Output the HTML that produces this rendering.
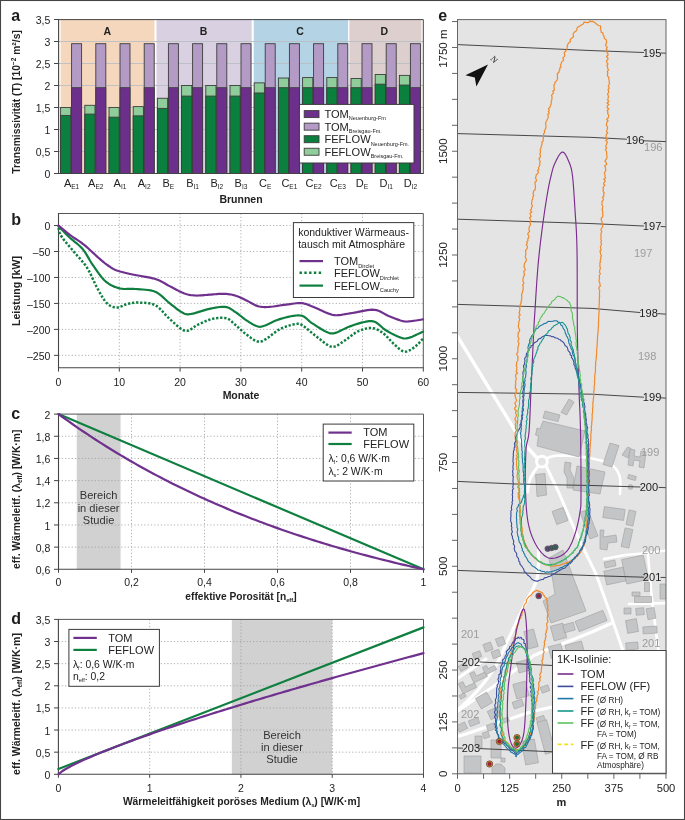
<!DOCTYPE html><html><head><meta charset="utf-8"><style>html,body{margin:0;padding:0;background:#fff;overflow:hidden;}svg{display:block;will-change:transform;}</style></head><body><svg width="685" height="820" viewBox="0 0 685 820" font-family="Liberation Sans">
<rect x="0.00" y="0.00" width="685.00" height="820.00" fill="#fff" stroke="none" stroke-width="1" />
<rect x="60.60" y="19.60" width="93.90" height="153.90" fill="#f4d7bc" stroke="none" stroke-width="1" />
<rect x="156.50" y="19.60" width="95.20" height="153.90" fill="#d9d0e1" stroke="none" stroke-width="1" />
<rect x="253.70" y="19.60" width="94.40" height="153.90" fill="#b4d3e5" stroke="none" stroke-width="1" />
<rect x="349.40" y="19.60" width="72.00" height="153.90" fill="#dccfcd" stroke="none" stroke-width="1" />
<text x="107.3" y="35.2" font-size="10.5" font-weight="bold" text-anchor="middle" fill="#222" >A</text>
<text x="203.5" y="35.2" font-size="10.5" font-weight="bold" text-anchor="middle" fill="#222" >B</text>
<text x="300.0" y="35.2" font-size="10.5" font-weight="bold" text-anchor="middle" fill="#222" >C</text>
<text x="384.4" y="35.2" font-size="10.5" font-weight="bold" text-anchor="middle" fill="#222" >D</text>
<line x1="59.00" y1="151.50" x2="423.00" y2="151.50" stroke="#b9bec4" stroke-width="0.9" />
<line x1="59.00" y1="129.50" x2="423.00" y2="129.50" stroke="#b9bec4" stroke-width="0.9" />
<line x1="59.00" y1="107.50" x2="423.00" y2="107.50" stroke="#b9bec4" stroke-width="0.9" />
<line x1="59.00" y1="85.50" x2="423.00" y2="85.50" stroke="#b9bec4" stroke-width="0.9" />
<line x1="59.00" y1="63.50" x2="423.00" y2="63.50" stroke="#b9bec4" stroke-width="0.9" />
<line x1="59.00" y1="41.50" x2="423.00" y2="41.50" stroke="#b9bec4" stroke-width="0.9" />
<rect x="60.60" y="107.50" width="10.20" height="66.00" fill="#8fcd9b" stroke="#3d3d3d" stroke-width="0.9" />
<rect x="60.60" y="115.42" width="10.20" height="58.08" fill="#0b7f3e" stroke="#3d3d3d" stroke-width="0.9" />
<rect x="71.60" y="43.70" width="10.00" height="129.80" fill="#b39bc6" stroke="#3d3d3d" stroke-width="0.9" />
<rect x="71.60" y="87.70" width="10.00" height="85.80" fill="#6d2f8c" stroke="#3d3d3d" stroke-width="0.9" />
<rect x="84.80" y="105.30" width="10.20" height="68.20" fill="#8fcd9b" stroke="#3d3d3d" stroke-width="0.9" />
<rect x="84.80" y="114.10" width="10.20" height="59.40" fill="#0b7f3e" stroke="#3d3d3d" stroke-width="0.9" />
<rect x="95.80" y="43.70" width="10.00" height="129.80" fill="#b39bc6" stroke="#3d3d3d" stroke-width="0.9" />
<rect x="95.80" y="87.70" width="10.00" height="85.80" fill="#6d2f8c" stroke="#3d3d3d" stroke-width="0.9" />
<rect x="109.00" y="107.50" width="10.20" height="66.00" fill="#8fcd9b" stroke="#3d3d3d" stroke-width="0.9" />
<rect x="109.00" y="117.18" width="10.20" height="56.32" fill="#0b7f3e" stroke="#3d3d3d" stroke-width="0.9" />
<rect x="120.00" y="43.70" width="10.00" height="129.80" fill="#b39bc6" stroke="#3d3d3d" stroke-width="0.9" />
<rect x="120.00" y="87.70" width="10.00" height="85.80" fill="#6d2f8c" stroke="#3d3d3d" stroke-width="0.9" />
<rect x="133.20" y="106.62" width="10.20" height="66.88" fill="#8fcd9b" stroke="#3d3d3d" stroke-width="0.9" />
<rect x="133.20" y="115.86" width="10.20" height="57.64" fill="#0b7f3e" stroke="#3d3d3d" stroke-width="0.9" />
<rect x="144.20" y="43.70" width="10.00" height="129.80" fill="#b39bc6" stroke="#3d3d3d" stroke-width="0.9" />
<rect x="144.20" y="87.70" width="10.00" height="85.80" fill="#6d2f8c" stroke="#3d3d3d" stroke-width="0.9" />
<rect x="157.40" y="98.26" width="10.20" height="75.24" fill="#8fcd9b" stroke="#3d3d3d" stroke-width="0.9" />
<rect x="157.40" y="108.38" width="10.20" height="65.12" fill="#0b7f3e" stroke="#3d3d3d" stroke-width="0.9" />
<rect x="168.40" y="43.70" width="10.00" height="129.80" fill="#b39bc6" stroke="#3d3d3d" stroke-width="0.9" />
<rect x="168.40" y="87.70" width="10.00" height="85.80" fill="#6d2f8c" stroke="#3d3d3d" stroke-width="0.9" />
<rect x="181.60" y="85.50" width="10.20" height="88.00" fill="#8fcd9b" stroke="#3d3d3d" stroke-width="0.9" />
<rect x="181.60" y="96.06" width="10.20" height="77.44" fill="#0b7f3e" stroke="#3d3d3d" stroke-width="0.9" />
<rect x="192.60" y="43.70" width="10.00" height="129.80" fill="#b39bc6" stroke="#3d3d3d" stroke-width="0.9" />
<rect x="192.60" y="87.70" width="10.00" height="85.80" fill="#6d2f8c" stroke="#3d3d3d" stroke-width="0.9" />
<rect x="205.80" y="85.50" width="10.20" height="88.00" fill="#8fcd9b" stroke="#3d3d3d" stroke-width="0.9" />
<rect x="205.80" y="96.06" width="10.20" height="77.44" fill="#0b7f3e" stroke="#3d3d3d" stroke-width="0.9" />
<rect x="216.80" y="43.70" width="10.00" height="129.80" fill="#b39bc6" stroke="#3d3d3d" stroke-width="0.9" />
<rect x="216.80" y="87.70" width="10.00" height="85.80" fill="#6d2f8c" stroke="#3d3d3d" stroke-width="0.9" />
<rect x="230.00" y="85.50" width="10.20" height="88.00" fill="#8fcd9b" stroke="#3d3d3d" stroke-width="0.9" />
<rect x="230.00" y="96.06" width="10.20" height="77.44" fill="#0b7f3e" stroke="#3d3d3d" stroke-width="0.9" />
<rect x="241.00" y="43.70" width="10.00" height="129.80" fill="#b39bc6" stroke="#3d3d3d" stroke-width="0.9" />
<rect x="241.00" y="87.70" width="10.00" height="85.80" fill="#6d2f8c" stroke="#3d3d3d" stroke-width="0.9" />
<rect x="254.20" y="82.86" width="10.20" height="90.64" fill="#8fcd9b" stroke="#3d3d3d" stroke-width="0.9" />
<rect x="254.20" y="92.98" width="10.20" height="80.52" fill="#0b7f3e" stroke="#3d3d3d" stroke-width="0.9" />
<rect x="265.20" y="43.70" width="10.00" height="129.80" fill="#b39bc6" stroke="#3d3d3d" stroke-width="0.9" />
<rect x="265.20" y="87.70" width="10.00" height="85.80" fill="#6d2f8c" stroke="#3d3d3d" stroke-width="0.9" />
<rect x="278.40" y="78.02" width="10.20" height="95.48" fill="#8fcd9b" stroke="#3d3d3d" stroke-width="0.9" />
<rect x="278.40" y="87.70" width="10.20" height="85.80" fill="#0b7f3e" stroke="#3d3d3d" stroke-width="0.9" />
<rect x="289.40" y="43.70" width="10.00" height="129.80" fill="#b39bc6" stroke="#3d3d3d" stroke-width="0.9" />
<rect x="289.40" y="87.70" width="10.00" height="85.80" fill="#6d2f8c" stroke="#3d3d3d" stroke-width="0.9" />
<rect x="302.60" y="77.58" width="10.20" height="95.92" fill="#8fcd9b" stroke="#3d3d3d" stroke-width="0.9" />
<rect x="302.60" y="87.70" width="10.20" height="85.80" fill="#0b7f3e" stroke="#3d3d3d" stroke-width="0.9" />
<rect x="313.60" y="43.70" width="10.00" height="129.80" fill="#b39bc6" stroke="#3d3d3d" stroke-width="0.9" />
<rect x="313.60" y="87.70" width="10.00" height="85.80" fill="#6d2f8c" stroke="#3d3d3d" stroke-width="0.9" />
<rect x="326.80" y="77.58" width="10.20" height="95.92" fill="#8fcd9b" stroke="#3d3d3d" stroke-width="0.9" />
<rect x="326.80" y="87.70" width="10.20" height="85.80" fill="#0b7f3e" stroke="#3d3d3d" stroke-width="0.9" />
<rect x="337.80" y="43.70" width="10.00" height="129.80" fill="#b39bc6" stroke="#3d3d3d" stroke-width="0.9" />
<rect x="337.80" y="87.70" width="10.00" height="85.80" fill="#6d2f8c" stroke="#3d3d3d" stroke-width="0.9" />
<rect x="351.00" y="78.46" width="10.20" height="95.04" fill="#8fcd9b" stroke="#3d3d3d" stroke-width="0.9" />
<rect x="351.00" y="87.70" width="10.20" height="85.80" fill="#0b7f3e" stroke="#3d3d3d" stroke-width="0.9" />
<rect x="362.00" y="43.70" width="10.00" height="129.80" fill="#b39bc6" stroke="#3d3d3d" stroke-width="0.9" />
<rect x="362.00" y="87.70" width="10.00" height="85.80" fill="#6d2f8c" stroke="#3d3d3d" stroke-width="0.9" />
<rect x="375.20" y="74.50" width="10.20" height="99.00" fill="#8fcd9b" stroke="#3d3d3d" stroke-width="0.9" />
<rect x="375.20" y="84.18" width="10.20" height="89.32" fill="#0b7f3e" stroke="#3d3d3d" stroke-width="0.9" />
<rect x="386.20" y="43.70" width="10.00" height="129.80" fill="#b39bc6" stroke="#3d3d3d" stroke-width="0.9" />
<rect x="386.20" y="87.70" width="10.00" height="85.80" fill="#6d2f8c" stroke="#3d3d3d" stroke-width="0.9" />
<rect x="399.40" y="75.38" width="10.20" height="98.12" fill="#8fcd9b" stroke="#3d3d3d" stroke-width="0.9" />
<rect x="399.40" y="85.06" width="10.20" height="88.44" fill="#0b7f3e" stroke="#3d3d3d" stroke-width="0.9" />
<rect x="410.40" y="43.70" width="10.00" height="129.80" fill="#b39bc6" stroke="#3d3d3d" stroke-width="0.9" />
<rect x="410.40" y="87.70" width="10.00" height="85.80" fill="#6d2f8c" stroke="#3d3d3d" stroke-width="0.9" />
<path d="M58.6,19.6 L423.3,19.6 L423.3,173.5" fill="none" stroke="#444" stroke-width="1"/>
<line x1="58.60" y1="19.10" x2="58.60" y2="174.00" stroke="#444" stroke-width="1.1" />
<line x1="58.10" y1="173.50" x2="423.80" y2="173.50" stroke="#444" stroke-width="1.1" />
<line x1="54.00" y1="173.50" x2="58.60" y2="173.50" stroke="#444" stroke-width="1" />
<text x="50.4" y="178.0" font-size="10.5" text-anchor="end" fill="#222" >0</text>
<line x1="54.00" y1="151.50" x2="58.60" y2="151.50" stroke="#444" stroke-width="1" />
<text x="50.4" y="156.0" font-size="10.5" text-anchor="end" fill="#222" >0,5</text>
<line x1="54.00" y1="129.50" x2="58.60" y2="129.50" stroke="#444" stroke-width="1" />
<text x="50.4" y="134.0" font-size="10.5" text-anchor="end" fill="#222" >1</text>
<line x1="54.00" y1="107.50" x2="58.60" y2="107.50" stroke="#444" stroke-width="1" />
<text x="50.4" y="112.0" font-size="10.5" text-anchor="end" fill="#222" >1,5</text>
<line x1="54.00" y1="85.50" x2="58.60" y2="85.50" stroke="#444" stroke-width="1" />
<text x="50.4" y="90.0" font-size="10.5" text-anchor="end" fill="#222" >2</text>
<line x1="54.00" y1="63.50" x2="58.60" y2="63.50" stroke="#444" stroke-width="1" />
<text x="50.4" y="68.0" font-size="10.5" text-anchor="end" fill="#222" >2,5</text>
<line x1="54.00" y1="41.50" x2="58.60" y2="41.50" stroke="#444" stroke-width="1" />
<text x="50.4" y="46.0" font-size="10.5" text-anchor="end" fill="#222" >3</text>
<line x1="54.00" y1="19.50" x2="58.60" y2="19.50" stroke="#444" stroke-width="1" />
<text x="50.4" y="24.0" font-size="10.5" text-anchor="end" fill="#222" >3,5</text>
<text x="71.6" y="186.6" font-size="11" text-anchor="middle" fill="#222">A<tspan font-size="6.6" dy="2.3">E1</tspan></text>
<text x="95.8" y="186.6" font-size="11" text-anchor="middle" fill="#222">A<tspan font-size="6.6" dy="2.3">E2</tspan></text>
<text x="120.0" y="186.6" font-size="11" text-anchor="middle" fill="#222">A<tspan font-size="6.6" dy="2.3">I1</tspan></text>
<text x="144.2" y="186.6" font-size="11" text-anchor="middle" fill="#222">A<tspan font-size="6.6" dy="2.3">I2</tspan></text>
<text x="168.4" y="186.6" font-size="11" text-anchor="middle" fill="#222">B<tspan font-size="6.6" dy="2.3">E</tspan></text>
<text x="192.6" y="186.6" font-size="11" text-anchor="middle" fill="#222">B<tspan font-size="6.6" dy="2.3">I1</tspan></text>
<text x="216.8" y="186.6" font-size="11" text-anchor="middle" fill="#222">B<tspan font-size="6.6" dy="2.3">I2</tspan></text>
<text x="241.0" y="186.6" font-size="11" text-anchor="middle" fill="#222">B<tspan font-size="6.6" dy="2.3">I3</tspan></text>
<text x="265.2" y="186.6" font-size="11" text-anchor="middle" fill="#222">C<tspan font-size="6.6" dy="2.3">E</tspan></text>
<text x="289.4" y="186.6" font-size="11" text-anchor="middle" fill="#222">C<tspan font-size="6.6" dy="2.3">E1</tspan></text>
<text x="313.6" y="186.6" font-size="11" text-anchor="middle" fill="#222">C<tspan font-size="6.6" dy="2.3">E2</tspan></text>
<text x="337.8" y="186.6" font-size="11" text-anchor="middle" fill="#222">C<tspan font-size="6.6" dy="2.3">E3</tspan></text>
<text x="362.0" y="186.6" font-size="11" text-anchor="middle" fill="#222">D<tspan font-size="6.6" dy="2.3">E</tspan></text>
<text x="386.2" y="186.6" font-size="11" text-anchor="middle" fill="#222">D<tspan font-size="6.6" dy="2.3">I1</tspan></text>
<text x="410.4" y="186.6" font-size="11" text-anchor="middle" fill="#222">D<tspan font-size="6.6" dy="2.3">I2</tspan></text>
<text x="241.0" y="203.0" font-size="10.5" font-weight="bold" text-anchor="middle" fill="#222" >Brunnen</text>
<text transform="translate(19.7,102.0) rotate(-90)" font-size="10.3" font-weight="bold" text-anchor="middle" fill="#222">Transmissivität (T) [10<tspan font-size="6.5" dy="-3.5">−2</tspan><tspan dy="3.5"> m²/s]</tspan></text>
<text x="11.3" y="21.2" font-size="16" font-weight="bold" text-anchor="start" fill="#1c1c1c" >a</text>
<rect x="299.40" y="104.40" width="114.60" height="58.60" fill="#fff" stroke="#3a3a3a" stroke-width="1" />
<rect x="304.20" y="110.60" width="14.80" height="7.00" fill="#6d2f8c" stroke="#3d3d3d" stroke-width="0.9" />
<text x="324.4" y="118.2" font-size="11.1" fill="#222">TOM<tspan font-size="5.5" dy="2.2">Neuenburg-Fm</tspan></text>
<rect x="304.20" y="123.15" width="14.80" height="7.00" fill="#b39bc6" stroke="#3d3d3d" stroke-width="0.9" />
<text x="324.4" y="130.8" font-size="11.1" fill="#222">TOM<tspan font-size="5.5" dy="2.2">Breisgau-Fm.</tspan></text>
<rect x="304.20" y="135.70" width="14.80" height="7.00" fill="#0b7f3e" stroke="#3d3d3d" stroke-width="0.9" />
<text x="324.4" y="143.3" font-size="11.1" fill="#222">FEFLOW<tspan font-size="5.5" dy="2.2">Neuenburg-Fm.</tspan></text>
<rect x="304.20" y="148.25" width="14.80" height="7.00" fill="#8fcd9b" stroke="#3d3d3d" stroke-width="0.9" />
<text x="324.4" y="155.8" font-size="11.1" fill="#222">FEFLOW<tspan font-size="5.5" dy="2.2">Breisgau-Fm.</tspan></text>
<line x1="58.50" y1="225.50" x2="423.30" y2="225.50" stroke="#9c9c9c" stroke-width="0.8" stroke-dasharray="1.2 2.1"/>
<line x1="58.50" y1="251.47" x2="423.30" y2="251.47" stroke="#9c9c9c" stroke-width="0.8" stroke-dasharray="1.2 2.1"/>
<line x1="58.50" y1="277.44" x2="423.30" y2="277.44" stroke="#9c9c9c" stroke-width="0.8" stroke-dasharray="1.2 2.1"/>
<line x1="58.50" y1="303.41" x2="423.30" y2="303.41" stroke="#9c9c9c" stroke-width="0.8" stroke-dasharray="1.2 2.1"/>
<line x1="58.50" y1="329.38" x2="423.30" y2="329.38" stroke="#9c9c9c" stroke-width="0.8" stroke-dasharray="1.2 2.1"/>
<line x1="58.50" y1="355.35" x2="423.30" y2="355.35" stroke="#9c9c9c" stroke-width="0.8" stroke-dasharray="1.2 2.1"/>
<line x1="119.30" y1="213.50" x2="119.30" y2="367.80" stroke="#9c9c9c" stroke-width="0.8" stroke-dasharray="1.2 2.1"/>
<line x1="180.10" y1="213.50" x2="180.10" y2="367.80" stroke="#9c9c9c" stroke-width="0.8" stroke-dasharray="1.2 2.1"/>
<line x1="240.90" y1="213.50" x2="240.90" y2="367.80" stroke="#9c9c9c" stroke-width="0.8" stroke-dasharray="1.2 2.1"/>
<line x1="301.70" y1="213.50" x2="301.70" y2="367.80" stroke="#9c9c9c" stroke-width="0.8" stroke-dasharray="1.2 2.1"/>
<line x1="362.50" y1="213.50" x2="362.50" y2="367.80" stroke="#9c9c9c" stroke-width="0.8" stroke-dasharray="1.2 2.1"/>
<path d="M58.5,213.5 L423.3,213.5 L423.3,367.8" fill="none" stroke="#555" stroke-width="1"/>
<line x1="58.50" y1="213.00" x2="58.50" y2="368.30" stroke="#444" stroke-width="1.1" />
<line x1="58.00" y1="367.80" x2="423.80" y2="367.80" stroke="#444" stroke-width="1.1" />
<line x1="54.00" y1="225.50" x2="58.50" y2="225.50" stroke="#444" stroke-width="1" />
<text x="50.4" y="230.0" font-size="10.5" text-anchor="end" fill="#222" >0</text>
<line x1="54.00" y1="251.47" x2="58.50" y2="251.47" stroke="#444" stroke-width="1" />
<text x="50.4" y="256.0" font-size="10.5" text-anchor="end" fill="#222" >–50</text>
<line x1="54.00" y1="277.44" x2="58.50" y2="277.44" stroke="#444" stroke-width="1" />
<text x="50.4" y="281.9" font-size="10.5" text-anchor="end" fill="#222" >–100</text>
<line x1="54.00" y1="303.41" x2="58.50" y2="303.41" stroke="#444" stroke-width="1" />
<text x="50.4" y="307.9" font-size="10.5" text-anchor="end" fill="#222" >–150</text>
<line x1="54.00" y1="329.38" x2="58.50" y2="329.38" stroke="#444" stroke-width="1" />
<text x="50.4" y="333.9" font-size="10.5" text-anchor="end" fill="#222" >–200</text>
<line x1="54.00" y1="355.35" x2="58.50" y2="355.35" stroke="#444" stroke-width="1" />
<text x="50.4" y="359.9" font-size="10.5" text-anchor="end" fill="#222" >–250</text>
<line x1="58.50" y1="367.80" x2="58.50" y2="371.60" stroke="#444" stroke-width="1" />
<text x="58.5" y="385.6" font-size="10.5" text-anchor="middle" fill="#222" >0</text>
<line x1="119.30" y1="367.80" x2="119.30" y2="371.60" stroke="#444" stroke-width="1" />
<text x="119.3" y="385.6" font-size="10.5" text-anchor="middle" fill="#222" >10</text>
<line x1="180.10" y1="367.80" x2="180.10" y2="371.60" stroke="#444" stroke-width="1" />
<text x="180.1" y="385.6" font-size="10.5" text-anchor="middle" fill="#222" >20</text>
<line x1="240.90" y1="367.80" x2="240.90" y2="371.60" stroke="#444" stroke-width="1" />
<text x="240.9" y="385.6" font-size="10.5" text-anchor="middle" fill="#222" >30</text>
<line x1="301.70" y1="367.80" x2="301.70" y2="371.60" stroke="#444" stroke-width="1" />
<text x="301.7" y="385.6" font-size="10.5" text-anchor="middle" fill="#222" >40</text>
<line x1="362.50" y1="367.80" x2="362.50" y2="371.60" stroke="#444" stroke-width="1" />
<text x="362.5" y="385.6" font-size="10.5" text-anchor="middle" fill="#222" >50</text>
<line x1="423.30" y1="367.80" x2="423.30" y2="371.60" stroke="#444" stroke-width="1" />
<text x="423.3" y="385.6" font-size="10.5" text-anchor="middle" fill="#222" >60</text>
<text x="241.0" y="398.6" font-size="10.5" font-weight="bold" text-anchor="middle" fill="#222" >Monate</text>
<text transform="translate(19.7,291.0) rotate(-90)" font-size="10.6" font-weight="bold" text-anchor="middle" fill="#222">Leistung [kW]</text>
<text x="11.3" y="224.8" font-size="16" font-weight="bold" text-anchor="start" fill="#1c1c1c" >b</text>
<path d="M58.50,227.80 L58.67,228.42 L58.82,229.19 L59.00,230.11 L59.24,231.16 L59.56,232.32 L60.01,233.58 L60.61,234.91 L61.40,236.30 L62.40,237.78 L63.59,239.38 L64.93,241.08 L66.39,242.86 L67.95,244.71 L69.55,246.61 L71.18,248.55 L72.80,250.50 L74.47,252.48 L76.25,254.50 L78.10,256.57 L79.99,258.69 L81.86,260.85 L83.68,263.05 L85.41,265.30 L87.00,267.60 L88.45,269.99 L89.80,272.50 L91.06,275.08 L92.27,277.69 L93.44,280.29 L94.61,282.84 L95.78,285.29 L97.00,287.60 L98.24,289.84 L99.48,292.07 L100.72,294.27 L101.95,296.38 L103.18,298.37 L104.42,300.20 L105.66,301.82 L106.90,303.20 L108.15,304.33 L109.39,305.25 L110.64,305.98 L111.89,306.54 L113.15,306.95 L114.40,307.23 L115.65,307.41 L116.90,307.50 L118.14,307.43 L119.37,307.15 L120.59,306.71 L121.82,306.16 L123.05,305.57 L124.31,305.00 L125.59,304.49 L126.90,304.10 L128.21,303.79 L129.50,303.50 L130.79,303.22 L132.11,302.98 L133.48,302.78 L134.94,302.64 L136.50,302.58 L138.20,302.60 L140.08,302.65 L142.13,302.70 L144.31,302.79 L146.56,302.95 L148.84,303.23 L151.09,303.67 L153.26,304.32 L155.30,305.20 L157.21,306.39 L159.04,307.89 L160.81,309.60 L162.54,311.47 L164.27,313.41 L166.00,315.34 L167.77,317.20 L169.60,318.90 L171.51,320.60 L173.47,322.43 L175.48,324.29 L177.49,326.09 L179.50,327.74 L181.47,329.14 L183.38,330.19 L185.20,330.80 L186.92,330.89 L188.56,330.51 L190.14,329.78 L191.68,328.80 L193.21,327.68 L194.76,326.54 L196.35,325.47 L198.00,324.60 L199.72,323.83 L201.47,323.02 L203.26,322.20 L205.06,321.40 L206.88,320.64 L208.70,319.95 L210.51,319.37 L212.30,318.90 L214.12,318.53 L215.99,318.23 L217.88,318.00 L219.76,317.85 L221.60,317.80 L223.35,317.85 L225.00,318.01 L226.50,318.30 L227.82,318.73 L228.96,319.31 L229.98,320.00 L230.93,320.79 L231.85,321.67 L232.80,322.61 L233.84,323.59 L235.00,324.60 L236.29,325.68 L237.65,326.89 L239.06,328.17 L240.52,329.50 L242.00,330.83 L243.48,332.14 L244.96,333.37 L246.40,334.50 L247.84,335.59 L249.32,336.70 L250.80,337.80 L252.28,338.84 L253.74,339.79 L255.15,340.59 L256.51,341.21 L257.80,341.60 L258.96,341.77 L260.00,341.76 L260.95,341.59 L261.88,341.27 L262.82,340.81 L263.84,340.24 L264.98,339.56 L266.30,338.80 L267.79,337.86 L269.41,336.68 L271.14,335.35 L272.95,333.93 L274.81,332.49 L276.71,331.10 L278.61,329.85 L280.50,328.80 L282.45,327.90 L284.52,327.07 L286.66,326.32 L288.79,325.65 L290.88,325.07 L292.84,324.60 L294.64,324.24 L296.20,324.00 L297.45,323.86 L298.41,323.80 L299.18,323.84 L299.84,323.99 L300.49,324.26 L301.22,324.68 L302.13,325.25 L303.30,326.00 L304.74,326.99 L306.37,328.24 L308.14,329.67 L310.01,331.24 L311.93,332.86 L313.86,334.47 L315.77,336.01 L317.60,337.40 L319.40,338.77 L321.22,340.23 L323.06,341.71 L324.88,343.14 L326.68,344.43 L328.45,345.52 L330.16,346.34 L331.80,346.80 L333.34,346.88 L334.78,346.64 L336.16,346.13 L337.50,345.41 L338.84,344.54 L340.22,343.57 L341.66,342.57 L343.20,341.60 L344.84,340.55 L346.55,339.31 L348.32,337.96 L350.12,336.56 L351.95,335.16 L353.78,333.85 L355.61,332.67 L357.40,331.70 L359.19,330.88 L361.02,330.13 L362.85,329.47 L364.68,328.91 L366.48,328.47 L368.25,328.16 L369.96,328.00 L371.60,328.00 L373.16,328.17 L374.65,328.51 L376.08,328.99 L377.48,329.61 L378.85,330.34 L380.22,331.18 L381.59,332.10 L383.00,333.10 L384.43,334.25 L385.88,335.61 L387.34,337.10 L388.79,338.68 L390.23,340.26 L391.65,341.80 L393.04,343.24 L394.40,344.50 L395.72,345.67 L397.00,346.84 L398.26,347.98 L399.49,349.03 L400.72,349.96 L401.94,350.73 L403.16,351.29 L404.40,351.60 L405.65,351.64 L406.91,351.43 L408.18,351.01 L409.44,350.43 L410.69,349.72 L411.92,348.94 L413.13,348.12 L414.30,347.30 L415.50,346.38 L416.74,345.27 L418.00,344.05 L419.22,342.78 L420.36,341.55 L421.39,340.43 L422.25,339.48 L422.90,338.80" fill="none" stroke="#0f7f40" stroke-width="2.5" stroke-dasharray="2.3 1.75" stroke-linejoin="round"/>
<path d="M58.50,226.40 L59.37,227.27 L60.52,228.43 L61.88,229.81 L63.40,231.34 L65.02,232.96 L66.68,234.60 L68.33,236.21 L69.90,237.70 L71.45,239.09 L73.07,240.44 L74.72,241.78 L76.39,243.12 L78.04,244.51 L79.66,245.95 L81.22,247.47 L82.70,249.10 L84.06,250.85 L85.33,252.70 L86.53,254.64 L87.70,256.63 L88.87,258.66 L90.07,260.72 L91.34,262.77 L92.70,264.80 L94.16,266.89 L95.67,269.09 L97.23,271.34 L98.84,273.59 L100.47,275.77 L102.14,277.82 L103.81,279.68 L105.50,281.30 L107.20,282.68 L108.92,283.89 L110.66,284.94 L112.42,285.84 L114.20,286.63 L116.01,287.30 L117.84,287.89 L119.70,288.40 L121.56,288.77 L123.42,288.96 L125.29,289.00 L127.19,288.97 L129.14,288.90 L131.14,288.85 L133.23,288.86 L135.40,289.00 L137.72,289.19 L140.21,289.34 L142.80,289.51 L145.44,289.73 L148.06,290.02 L150.62,290.44 L153.05,291.02 L155.30,291.80 L157.37,292.83 L159.30,294.09 L161.14,295.53 L162.89,297.09 L164.59,298.69 L166.26,300.29 L167.92,301.81 L169.60,303.20 L171.30,304.53 L173.01,305.88 L174.70,307.22 L176.36,308.52 L177.98,309.75 L179.54,310.86 L181.02,311.82 L182.40,312.60 L183.60,313.20 L184.59,313.66 L185.46,314.00 L186.29,314.21 L187.17,314.30 L188.17,314.29 L189.39,314.19 L190.90,314.00 L192.75,313.65 L194.89,313.11 L197.23,312.43 L199.70,311.66 L202.23,310.87 L204.74,310.11 L207.15,309.43 L209.40,308.90 L211.54,308.45 L213.66,308.02 L215.75,307.62 L217.79,307.27 L219.76,307.01 L221.65,306.84 L223.43,306.80 L225.10,306.90 L226.60,307.16 L227.95,307.56 L229.17,308.07 L230.32,308.69 L231.43,309.40 L232.56,310.16 L233.73,310.97 L235.00,311.80 L236.36,312.71 L237.78,313.74 L239.23,314.85 L240.69,316.00 L242.16,317.16 L243.61,318.29 L245.03,319.35 L246.40,320.30 L247.74,321.19 L249.07,322.06 L250.38,322.89 L251.67,323.68 L252.92,324.40 L254.14,325.04 L255.30,325.58 L256.40,326.00 L257.36,326.32 L258.15,326.57 L258.84,326.73 L259.51,326.80 L260.24,326.77 L261.10,326.63 L262.16,326.38 L263.50,326.00 L265.13,325.43 L266.98,324.64 L269.02,323.69 L271.19,322.66 L273.47,321.60 L275.81,320.58 L278.16,319.66 L280.50,318.90 L282.92,318.22 L285.49,317.53 L288.16,316.87 L290.85,316.28 L293.50,315.81 L296.03,315.49 L298.39,315.37 L300.50,315.50 L302.32,315.92 L303.89,316.60 L305.28,317.50 L306.56,318.55 L307.80,319.69 L309.05,320.87 L310.40,322.03 L311.90,323.10 L313.58,324.18 L315.39,325.35 L317.27,326.57 L319.18,327.79 L321.07,328.96 L322.89,330.03 L324.58,330.96 L326.10,331.70 L327.40,332.27 L328.49,332.74 L329.45,333.09 L330.34,333.33 L331.24,333.46 L332.20,333.46 L333.30,333.34 L334.60,333.10 L336.11,332.67 L337.77,332.02 L339.54,331.22 L341.39,330.32 L343.29,329.37 L345.20,328.43 L347.08,327.55 L348.90,326.80 L350.70,326.12 L352.52,325.46 L354.36,324.81 L356.18,324.19 L357.98,323.62 L359.75,323.11 L361.46,322.66 L363.10,322.30 L364.66,321.98 L366.15,321.66 L367.58,321.39 L368.98,321.18 L370.35,321.08 L371.72,321.11 L373.09,321.31 L374.50,321.70 L375.91,322.35 L377.28,323.24 L378.65,324.32 L380.02,325.52 L381.42,326.78 L382.85,328.04 L384.34,329.23 L385.90,330.30 L387.58,331.30 L389.38,332.34 L391.27,333.36 L393.17,334.36 L395.06,335.29 L396.88,336.12 L398.57,336.84 L400.10,337.40 L401.40,337.82 L402.51,338.15 L403.49,338.37 L404.40,338.48 L405.31,338.49 L406.29,338.40 L407.40,338.20 L408.70,337.90 L410.30,337.40 L412.19,336.68 L414.24,335.79 L416.34,334.83 L418.37,333.87 L420.22,332.97 L421.77,332.22 L422.90,331.70" fill="none" stroke="#0f7f40" stroke-width="2.2" stroke-linejoin="round" stroke-linecap="round" />
<path d="M58.50,225.50 L59.36,226.22 L60.48,227.18 L61.81,228.31 L63.31,229.57 L64.91,230.92 L66.58,232.29 L68.26,233.63 L69.90,234.90 L71.55,236.10 L73.27,237.29 L75.05,238.48 L76.88,239.69 L78.72,240.92 L80.56,242.19 L82.40,243.51 L84.20,244.90 L86.01,246.40 L87.86,248.02 L89.73,249.71 L91.59,251.44 L93.42,253.14 L95.18,254.79 L96.85,256.32 L98.40,257.70 L99.82,258.93 L101.14,260.07 L102.37,261.11 L103.53,262.09 L104.65,263.00 L105.76,263.86 L106.86,264.69 L108.00,265.50 L109.10,266.27 L110.11,266.97 L111.09,267.62 L112.07,268.24 L113.10,268.82 L114.21,269.39 L115.47,269.94 L116.90,270.50 L118.49,271.04 L120.18,271.56 L121.98,272.05 L123.89,272.53 L125.90,273.01 L128.02,273.49 L130.26,273.98 L132.60,274.50 L135.16,275.02 L137.98,275.53 L140.97,276.04 L144.04,276.56 L147.10,277.10 L150.05,277.68 L152.82,278.31 L155.30,279.00 L157.49,279.76 L159.47,280.59 L161.28,281.47 L162.98,282.39 L164.61,283.32 L166.23,284.26 L167.87,285.19 L169.60,286.10 L171.40,287.02 L173.22,287.99 L175.06,288.97 L176.88,289.95 L178.68,290.89 L180.45,291.76 L182.16,292.54 L183.80,293.20 L185.34,293.74 L186.78,294.19 L188.16,294.55 L189.50,294.84 L190.84,295.08 L192.22,295.26 L193.66,295.39 L195.20,295.50 L196.84,295.55 L198.55,295.52 L200.32,295.43 L202.12,295.30 L203.94,295.14 L205.78,294.98 L207.60,294.83 L209.40,294.70 L211.20,294.57 L213.04,294.42 L214.89,294.26 L216.73,294.09 L218.55,293.95 L220.33,293.84 L222.06,293.79 L223.70,293.80 L225.26,293.87 L226.73,293.97 L228.15,294.11 L229.53,294.29 L230.89,294.51 L232.24,294.79 L233.60,295.12 L235.00,295.50 L236.42,295.95 L237.84,296.48 L239.27,297.07 L240.69,297.70 L242.12,298.36 L243.55,299.04 L244.97,299.73 L246.40,300.40 L247.83,301.11 L249.25,301.88 L250.68,302.69 L252.10,303.51 L253.53,304.29 L254.95,305.00 L256.38,305.62 L257.80,306.10 L259.19,306.46 L260.52,306.72 L261.83,306.90 L263.15,307.00 L264.51,307.04 L265.96,307.03 L267.51,306.98 L269.20,306.90 L271.07,306.75 L273.09,306.52 L275.22,306.22 L277.43,305.89 L279.67,305.53 L281.91,305.18 L284.10,304.87 L286.20,304.60 L288.24,304.34 L290.28,304.05 L292.31,303.76 L294.31,303.49 L296.28,303.27 L298.21,303.13 L300.09,303.10 L301.90,303.20 L303.63,303.45 L305.27,303.83 L306.85,304.31 L308.39,304.87 L309.92,305.50 L311.46,306.16 L313.05,306.83 L314.70,307.50 L316.46,308.22 L318.31,309.03 L320.21,309.89 L322.12,310.77 L324.00,311.64 L325.80,312.44 L327.48,313.14 L329.00,313.70 L330.28,314.14 L331.33,314.50 L332.23,314.79 L333.07,315.00 L333.94,315.14 L334.91,315.22 L336.07,315.24 L337.50,315.20 L339.21,315.07 L341.10,314.84 L343.16,314.53 L345.34,314.17 L347.60,313.77 L349.93,313.36 L352.27,312.96 L354.60,312.60 L356.99,312.20 L359.51,311.70 L362.11,311.17 L364.73,310.65 L367.33,310.20 L369.86,309.87 L372.27,309.72 L374.50,309.80 L376.55,310.15 L378.45,310.74 L380.24,311.51 L381.95,312.41 L383.62,313.36 L385.28,314.32 L386.96,315.22 L388.70,316.00 L390.52,316.73 L392.40,317.47 L394.31,318.22 L396.21,318.94 L398.06,319.61 L399.83,320.21 L401.49,320.71 L403.00,321.10 L404.32,321.36 L405.46,321.50 L406.48,321.55 L407.43,321.52 L408.35,321.45 L409.31,321.34 L410.34,321.22 L411.50,321.10 L412.86,320.96 L414.41,320.75 L416.06,320.51 L417.73,320.25 L419.33,319.99 L420.78,319.75 L422.00,319.54 L422.90,319.40" fill="none" stroke="#70308e" stroke-width="2.2" stroke-linejoin="round" stroke-linecap="round" />
<rect x="293.40" y="222.60" width="120.40" height="74.90" fill="#fff" stroke="#3a3a3a" stroke-width="1" />
<text x="298.2" y="236.3" font-size="10.5" text-anchor="start" fill="#222" >konduktiver Wärmeaus-</text>
<text x="298.2" y="248.0" font-size="10.5" text-anchor="start" fill="#222" >tausch mit Atmosphäre</text>
<line x1="299.50" y1="261.10" x2="323.00" y2="261.10" stroke="#70308e" stroke-width="2.2" />
<line x1="299.50" y1="272.80" x2="323.00" y2="272.80" stroke="#0f7f40" stroke-width="2.5" stroke-dasharray="2.4 2.4"/>
<line x1="299.50" y1="285.60" x2="323.00" y2="285.60" stroke="#0f7f40" stroke-width="2.2" />
<text x="334" y="265.4" font-size="11" fill="#222">TOM<tspan font-size="5.6" dy="2.3">Dirclet</tspan></text>
<text x="334" y="277.4" font-size="11" fill="#222">FEFLOW<tspan font-size="5.6" dy="2.3">Dirchlet</tspan></text>
<text x="334" y="290.0" font-size="11" fill="#222">FEFLOW<tspan font-size="5.6" dy="2.3">Cauchy</tspan></text>
<rect x="76.75" y="414.10" width="43.80" height="155.20" fill="#d1d1d1" stroke="none" stroke-width="1" />
<line x1="58.50" y1="436.27" x2="423.50" y2="436.27" stroke="#9c9c9c" stroke-width="0.8" stroke-dasharray="1.2 2.1"/>
<line x1="58.50" y1="458.44" x2="423.50" y2="458.44" stroke="#9c9c9c" stroke-width="0.8" stroke-dasharray="1.2 2.1"/>
<line x1="58.50" y1="480.61" x2="423.50" y2="480.61" stroke="#9c9c9c" stroke-width="0.8" stroke-dasharray="1.2 2.1"/>
<line x1="58.50" y1="502.79" x2="423.50" y2="502.79" stroke="#9c9c9c" stroke-width="0.8" stroke-dasharray="1.2 2.1"/>
<line x1="58.50" y1="524.96" x2="423.50" y2="524.96" stroke="#9c9c9c" stroke-width="0.8" stroke-dasharray="1.2 2.1"/>
<line x1="58.50" y1="547.13" x2="423.50" y2="547.13" stroke="#9c9c9c" stroke-width="0.8" stroke-dasharray="1.2 2.1"/>
<line x1="131.50" y1="414.10" x2="131.50" y2="569.30" stroke="#9c9c9c" stroke-width="0.8" stroke-dasharray="1.2 2.1"/>
<line x1="204.50" y1="414.10" x2="204.50" y2="569.30" stroke="#9c9c9c" stroke-width="0.8" stroke-dasharray="1.2 2.1"/>
<line x1="277.50" y1="414.10" x2="277.50" y2="569.30" stroke="#9c9c9c" stroke-width="0.8" stroke-dasharray="1.2 2.1"/>
<line x1="350.50" y1="414.10" x2="350.50" y2="569.30" stroke="#9c9c9c" stroke-width="0.8" stroke-dasharray="1.2 2.1"/>
<path d="M58.5,414.1 L423.5,414.1 L423.5,569.3" fill="none" stroke="#555" stroke-width="1"/>
<line x1="58.50" y1="413.60" x2="58.50" y2="569.80" stroke="#444" stroke-width="1.1" />
<line x1="58.00" y1="569.30" x2="424.00" y2="569.30" stroke="#444" stroke-width="1.1" />
<line x1="54.00" y1="414.10" x2="58.50" y2="414.10" stroke="#444" stroke-width="1" />
<text x="50.4" y="418.6" font-size="10.5" text-anchor="end" fill="#222" >2</text>
<line x1="54.00" y1="436.27" x2="58.50" y2="436.27" stroke="#444" stroke-width="1" />
<text x="50.4" y="440.8" font-size="10.5" text-anchor="end" fill="#222" >1,8</text>
<line x1="54.00" y1="458.44" x2="58.50" y2="458.44" stroke="#444" stroke-width="1" />
<text x="50.4" y="462.9" font-size="10.5" text-anchor="end" fill="#222" >1,6</text>
<line x1="54.00" y1="480.61" x2="58.50" y2="480.61" stroke="#444" stroke-width="1" />
<text x="50.4" y="485.1" font-size="10.5" text-anchor="end" fill="#222" >1,4</text>
<line x1="54.00" y1="502.79" x2="58.50" y2="502.79" stroke="#444" stroke-width="1" />
<text x="50.4" y="507.3" font-size="10.5" text-anchor="end" fill="#222" >1,2</text>
<line x1="54.00" y1="524.96" x2="58.50" y2="524.96" stroke="#444" stroke-width="1" />
<text x="50.4" y="529.5" font-size="10.5" text-anchor="end" fill="#222" >1</text>
<line x1="54.00" y1="547.13" x2="58.50" y2="547.13" stroke="#444" stroke-width="1" />
<text x="50.4" y="551.6" font-size="10.5" text-anchor="end" fill="#222" >0,8</text>
<line x1="54.00" y1="569.30" x2="58.50" y2="569.30" stroke="#444" stroke-width="1" />
<text x="50.4" y="573.8" font-size="10.5" text-anchor="end" fill="#222" >0,6</text>
<line x1="58.50" y1="569.30" x2="58.50" y2="572.80" stroke="#444" stroke-width="1" />
<text x="58.5" y="586.0" font-size="10.5" text-anchor="middle" fill="#222" >0</text>
<line x1="131.50" y1="569.30" x2="131.50" y2="572.80" stroke="#444" stroke-width="1" />
<text x="131.5" y="586.0" font-size="10.5" text-anchor="middle" fill="#222" >0,2</text>
<line x1="204.50" y1="569.30" x2="204.50" y2="572.80" stroke="#444" stroke-width="1" />
<text x="204.5" y="586.0" font-size="10.5" text-anchor="middle" fill="#222" >0,4</text>
<line x1="277.50" y1="569.30" x2="277.50" y2="572.80" stroke="#444" stroke-width="1" />
<text x="277.5" y="586.0" font-size="10.5" text-anchor="middle" fill="#222" >0,6</text>
<line x1="350.50" y1="569.30" x2="350.50" y2="572.80" stroke="#444" stroke-width="1" />
<text x="350.5" y="586.0" font-size="10.5" text-anchor="middle" fill="#222" >0,8</text>
<line x1="423.50" y1="569.30" x2="423.50" y2="572.80" stroke="#444" stroke-width="1" />
<text x="423.5" y="586.0" font-size="10.5" text-anchor="middle" fill="#222" >1</text>
<text x="241.0" y="599.6" font-size="10.2" font-weight="bold" text-anchor="middle" fill="#222" >effektive Porosität [n<tspan font-size="5.8" dy="2">eff</tspan><tspan dy="-2">]</tspan></text>
<text transform="translate(19.7,499.3) rotate(-90)" font-size="10.3" font-weight="bold" text-anchor="middle" fill="#222">eff. Wärmeleitf. (λ<tspan font-size="6.3" dy="2">eff</tspan><tspan dy="-2">) [W/K·m]</tspan></text>
<text x="11.3" y="418.8" font-size="16" font-weight="bold" text-anchor="start" fill="#1c1c1c" >c</text>
<text x="98.6" y="499.4" font-size="11.1" text-anchor="middle" fill="#333" >Bereich</text>
<text x="98.6" y="511.9" font-size="11.1" text-anchor="middle" fill="#333" >in dieser</text>
<text x="98.6" y="524.4" font-size="11.1" text-anchor="middle" fill="#333" >Studie</text>
<path d="M58.50,414.10 L423.50,569.30" fill="none" stroke="#0f7f40" stroke-width="2.2" stroke-linejoin="round" stroke-linecap="round" />
<path d="M58.50,414.10 L62.15,416.75 L65.80,419.37 L69.45,421.97 L73.10,424.52 L76.75,427.05 L80.40,429.55 L84.05,432.02 L87.70,434.46 L91.35,436.87 L95.00,439.25 L98.65,441.60 L102.30,443.93 L105.95,446.22 L109.60,448.49 L113.25,450.73 L116.90,452.95 L120.55,455.14 L124.20,457.30 L127.85,459.44 L131.50,461.55 L135.15,463.63 L138.80,465.69 L142.45,467.73 L146.10,469.74 L149.75,471.73 L153.40,473.69 L157.05,475.63 L160.70,477.55 L164.35,479.44 L168.00,481.31 L171.65,483.16 L175.30,484.99 L178.95,486.79 L182.60,488.58 L186.25,490.34 L189.90,492.08 L193.55,493.80 L197.20,495.50 L200.85,497.18 L204.50,498.84 L208.15,500.48 L211.80,502.10 L215.45,503.70 L219.10,505.28 L222.75,506.84 L226.40,508.38 L230.05,509.91 L233.70,511.42 L237.35,512.91 L241.00,514.38 L244.65,515.83 L248.30,517.27 L251.95,518.68 L255.60,520.09 L259.25,521.47 L262.90,522.84 L266.55,524.19 L270.20,525.53 L273.85,526.85 L277.50,528.15 L281.15,529.44 L284.80,530.71 L288.45,531.97 L292.10,533.21 L295.75,534.44 L299.40,535.65 L303.05,536.85 L306.70,538.04 L310.35,539.21 L314.00,540.36 L317.65,541.51 L321.30,542.63 L324.95,543.75 L328.60,544.85 L332.25,545.94 L335.90,547.02 L339.55,548.08 L343.20,549.13 L346.85,550.17 L350.50,551.19 L354.15,552.20 L357.80,553.20 L361.45,554.19 L365.10,555.17 L368.75,556.13 L372.40,557.09 L376.05,558.03 L379.70,558.96 L383.35,559.88 L387.00,560.79 L390.65,561.69 L394.30,562.57 L397.95,563.45 L401.60,564.32 L405.25,565.17 L408.90,566.02 L412.55,566.85 L416.20,567.68 L419.85,568.49 L423.50,569.30" fill="none" stroke="#70308e" stroke-width="2.2" stroke-linejoin="round" stroke-linecap="round" />
<rect x="323.20" y="424.10" width="90.60" height="56.90" fill="#fff" stroke="#3a3a3a" stroke-width="1" />
<line x1="328.40" y1="432.60" x2="351.70" y2="432.60" stroke="#70308e" stroke-width="2.2" />
<line x1="328.40" y1="444.00" x2="351.70" y2="444.00" stroke="#0f7f40" stroke-width="2.2" />
<text x="363.2" y="436.4" font-size="11" text-anchor="start" fill="#222" >TOM</text>
<text x="363.2" y="448.4" font-size="11" text-anchor="start" fill="#222" >FEFLOW</text>
<text x="328.4" y="462" font-size="10.4" fill="#222">λ<tspan font-size="5.6" dy="2">f</tspan><tspan dy="-2">: 0,6 W/K·m</tspan></text>
<text x="328.4" y="474.6" font-size="10.4" fill="#222">λ<tspan font-size="5.6" dy="2">s</tspan><tspan dy="-2">: 2 W/K·m</tspan></text>
<rect x="231.82" y="619.40" width="100.40" height="154.90" fill="#d1d1d1" stroke="none" stroke-width="1" />
<line x1="58.40" y1="752.17" x2="423.50" y2="752.17" stroke="#9c9c9c" stroke-width="0.8" stroke-dasharray="1.2 2.1"/>
<line x1="58.40" y1="730.04" x2="423.50" y2="730.04" stroke="#9c9c9c" stroke-width="0.8" stroke-dasharray="1.2 2.1"/>
<line x1="58.40" y1="707.91" x2="423.50" y2="707.91" stroke="#9c9c9c" stroke-width="0.8" stroke-dasharray="1.2 2.1"/>
<line x1="58.40" y1="685.79" x2="423.50" y2="685.79" stroke="#9c9c9c" stroke-width="0.8" stroke-dasharray="1.2 2.1"/>
<line x1="58.40" y1="663.66" x2="423.50" y2="663.66" stroke="#9c9c9c" stroke-width="0.8" stroke-dasharray="1.2 2.1"/>
<line x1="58.40" y1="641.53" x2="423.50" y2="641.53" stroke="#9c9c9c" stroke-width="0.8" stroke-dasharray="1.2 2.1"/>
<line x1="149.68" y1="619.40" x2="149.68" y2="774.30" stroke="#9c9c9c" stroke-width="0.8" stroke-dasharray="1.2 2.1"/>
<line x1="240.95" y1="619.40" x2="240.95" y2="774.30" stroke="#9c9c9c" stroke-width="0.8" stroke-dasharray="1.2 2.1"/>
<line x1="332.23" y1="619.40" x2="332.23" y2="774.30" stroke="#9c9c9c" stroke-width="0.8" stroke-dasharray="1.2 2.1"/>
<path d="M58.4,619.4 L423.5,619.4 L423.5,774.3" fill="none" stroke="#555" stroke-width="1"/>
<line x1="58.40" y1="618.90" x2="58.40" y2="774.80" stroke="#444" stroke-width="1.1" />
<line x1="57.90" y1="774.30" x2="424.00" y2="774.30" stroke="#444" stroke-width="1.1" />
<line x1="54.00" y1="774.30" x2="58.40" y2="774.30" stroke="#444" stroke-width="1" />
<text x="50.4" y="778.8" font-size="10.5" text-anchor="end" fill="#222" >0</text>
<line x1="54.00" y1="752.17" x2="58.40" y2="752.17" stroke="#444" stroke-width="1" />
<text x="50.4" y="756.7" font-size="10.5" text-anchor="end" fill="#222" >0,5</text>
<line x1="54.00" y1="730.04" x2="58.40" y2="730.04" stroke="#444" stroke-width="1" />
<text x="50.4" y="734.5" font-size="10.5" text-anchor="end" fill="#222" >1</text>
<line x1="54.00" y1="707.91" x2="58.40" y2="707.91" stroke="#444" stroke-width="1" />
<text x="50.4" y="712.4" font-size="10.5" text-anchor="end" fill="#222" >1,5</text>
<line x1="54.00" y1="685.79" x2="58.40" y2="685.79" stroke="#444" stroke-width="1" />
<text x="50.4" y="690.3" font-size="10.5" text-anchor="end" fill="#222" >2</text>
<line x1="54.00" y1="663.66" x2="58.40" y2="663.66" stroke="#444" stroke-width="1" />
<text x="50.4" y="668.2" font-size="10.5" text-anchor="end" fill="#222" >2,5</text>
<line x1="54.00" y1="641.53" x2="58.40" y2="641.53" stroke="#444" stroke-width="1" />
<text x="50.4" y="646.0" font-size="10.5" text-anchor="end" fill="#222" >3</text>
<line x1="54.00" y1="619.40" x2="58.40" y2="619.40" stroke="#444" stroke-width="1" />
<text x="50.4" y="623.9" font-size="10.5" text-anchor="end" fill="#222" >3,5</text>
<line x1="58.40" y1="774.30" x2="58.40" y2="777.80" stroke="#444" stroke-width="1" />
<text x="58.4" y="791.8" font-size="10.5" text-anchor="middle" fill="#222" >0</text>
<line x1="149.68" y1="774.30" x2="149.68" y2="777.80" stroke="#444" stroke-width="1" />
<text x="149.7" y="791.8" font-size="10.5" text-anchor="middle" fill="#222" >1</text>
<line x1="240.95" y1="774.30" x2="240.95" y2="777.80" stroke="#444" stroke-width="1" />
<text x="241.0" y="791.8" font-size="10.5" text-anchor="middle" fill="#222" >2</text>
<line x1="332.23" y1="774.30" x2="332.23" y2="777.80" stroke="#444" stroke-width="1" />
<text x="332.2" y="791.8" font-size="10.5" text-anchor="middle" fill="#222" >3</text>
<line x1="423.50" y1="774.30" x2="423.50" y2="777.80" stroke="#444" stroke-width="1" />
<text x="423.5" y="791.8" font-size="10.5" text-anchor="middle" fill="#222" >4</text>
<text x="241.5" y="805.0" font-size="10.3" font-weight="bold" text-anchor="middle" fill="#222" >Wärmeleitfähigkeit poröses Medium (λ<tspan font-size="5.8" dy="2">s</tspan><tspan dy="-2">) [W/K·m]</tspan></text>
<text transform="translate(19.7,704.0) rotate(-90)" font-size="10.5" font-weight="bold" text-anchor="middle" fill="#222">eff. Wärmeleitf. (λ<tspan font-size="6.3" dy="2">eff</tspan><tspan dy="-2">) [W/K·m]</tspan></text>
<text x="11.3" y="623.6" font-size="16" font-weight="bold" text-anchor="start" fill="#1c1c1c" >d</text>
<text x="282.0" y="738.6" font-size="11.1" text-anchor="middle" fill="#333" >Bereich</text>
<text x="282.0" y="751.0" font-size="11.1" text-anchor="middle" fill="#333" >in dieser</text>
<text x="282.0" y="763.3" font-size="11.1" text-anchor="middle" fill="#333" >Studie</text>
<path d="M58.40,768.99 L423.50,627.37" fill="none" stroke="#0f7f40" stroke-width="2.2" stroke-linejoin="round" stroke-linecap="round" />
<path d="M58.40,774.30 L62.05,771.26 L65.70,769.00 L69.35,766.97 L73.00,765.08 L76.66,763.27 L80.31,761.54 L83.96,759.87 L87.61,758.24 L91.26,756.65 L94.91,755.10 L98.56,753.58 L102.21,752.09 L105.86,750.62 L109.51,749.17 L113.16,747.75 L116.82,746.34 L120.47,744.95 L124.12,743.58 L127.77,742.22 L131.42,740.87 L135.07,739.54 L138.72,738.23 L142.37,736.92 L146.02,735.62 L149.68,734.34 L153.33,733.07 L156.98,731.80 L160.63,730.55 L164.28,729.30 L167.93,728.07 L171.58,726.84 L175.23,725.62 L178.88,724.40 L182.53,723.20 L186.19,722.00 L189.84,720.81 L193.49,719.62 L197.14,718.44 L200.79,717.27 L204.44,716.10 L208.09,714.94 L211.74,713.79 L215.39,712.64 L219.04,711.49 L222.70,710.35 L226.35,709.22 L230.00,708.09 L233.65,706.96 L237.30,705.84 L240.95,704.73 L244.60,703.62 L248.25,702.51 L251.90,701.41 L255.55,700.31 L259.21,699.22 L262.86,698.13 L266.51,697.04 L270.16,695.96 L273.81,694.88 L277.46,693.80 L281.11,692.73 L284.76,691.66 L288.41,690.60 L292.06,689.54 L295.72,688.48 L299.37,687.42 L303.02,686.37 L306.67,685.32 L310.32,684.28 L313.97,683.24 L317.62,682.20 L321.27,681.16 L324.92,680.13 L328.57,679.10 L332.23,678.07 L335.88,677.04 L339.53,676.02 L343.18,675.00 L346.83,673.99 L350.48,672.97 L354.13,671.96 L357.78,670.95 L361.43,669.94 L365.08,668.94 L368.74,667.94 L372.39,666.94 L376.04,665.94 L379.69,664.94 L383.34,663.95 L386.99,662.96 L390.64,661.97 L394.29,660.98 L397.94,660.00 L401.59,659.02 L405.25,658.04 L408.90,657.06 L412.55,656.08 L416.20,655.11 L419.85,654.14 L423.50,653.17" fill="none" stroke="#70308e" stroke-width="2.2" stroke-linejoin="round" stroke-linecap="round" />
<rect x="68.90" y="629.40" width="90.50" height="56.90" fill="#fff" stroke="#3a3a3a" stroke-width="1" />
<line x1="73.40" y1="637.90" x2="96.80" y2="637.90" stroke="#70308e" stroke-width="2.2" />
<line x1="73.40" y1="649.90" x2="96.80" y2="649.90" stroke="#0f7f40" stroke-width="2.2" />
<text x="108.2" y="641.7" font-size="11" text-anchor="start" fill="#222" >TOM</text>
<text x="108.2" y="653.7" font-size="11" text-anchor="start" fill="#222" >FEFLOW</text>
<text x="72.9" y="667.8" font-size="10.4" fill="#222">λ<tspan font-size="5.6" dy="2">f</tspan><tspan dy="-2">: 0,6 W/K·m</tspan></text>
<text x="72.9" y="680.3" font-size="10.4" fill="#222">n<tspan font-size="5.6" dy="2">eff</tspan><tspan dy="-2">: 0,2</tspan></text>
<defs><clipPath id="mc"><rect x="457.5" y="19.6" width="208.5" height="754.1999999999999"/></clipPath></defs>
<rect x="457.50" y="19.60" width="208.50" height="754.20" fill="#e4e4e4" stroke="none" stroke-width="1" />
<g clip-path="url(#mc)">
<path d="M452.00,328.00 L457.50,336.50 L520.90,440.00 L536.00,457.00" fill="none" stroke="#ffffff" stroke-width="3.4" stroke-linejoin="round" stroke-linecap="round" stroke-linecap="butt"/>
<path d="M546.50,467.00 L558.60,492.00 L577.00,535.00 L596.00,574.00 L609.00,610.00 L622.00,648.00 L634.00,690.00" fill="none" stroke="#ffffff" stroke-width="3.0" stroke-linejoin="round" stroke-linecap="round" stroke-linecap="butt"/>
<circle cx="541.9" cy="461.6" r="5.4" fill="none" stroke="#fff" stroke-width="3"/>
<path d="M546.50,458.30 L547.32,458.06 L548.30,457.70 L549.44,457.28 L550.79,456.82 L552.35,456.39 L554.16,456.01 L556.23,455.73 L558.60,455.60 L561.39,455.60 L564.64,455.67 L568.22,455.81 L572.01,456.03 L575.88,456.32 L579.72,456.68 L583.40,457.11 L586.80,457.60 L590.03,458.15 L593.27,458.76 L596.47,459.43 L599.57,460.18 L602.52,461.00 L605.28,461.90 L607.79,462.90 L610.00,464.00 L611.90,465.19 L613.55,466.47 L614.96,467.83 L616.17,469.27 L617.20,470.81 L618.08,472.45 L618.84,474.17 L619.50,476.00 L620.00,478.09 L620.27,480.50 L620.37,483.10 L620.34,485.75 L620.24,488.30 L620.12,490.62 L620.02,492.57 L620.00,494.00" fill="none" stroke="#ffffff" stroke-width="2.6" stroke-linejoin="round" stroke-linecap="round" stroke-linecap="butt"/>
<path d="M537.50,467.00 L536.93,467.83 L536.15,468.91 L535.21,470.19 L534.19,471.62 L533.14,473.17 L532.13,474.78 L531.23,476.41 L530.50,478.00 L529.91,479.70 L529.40,481.62 L528.95,483.65 L528.56,485.69 L528.23,487.64 L527.95,489.41 L527.70,490.90 L527.50,492.00" fill="none" stroke="#ffffff" stroke-width="3.0" stroke-linejoin="round" stroke-linecap="round" stroke-linecap="butt"/>
<path d="M538.50,548.00 L538.50,549.40 L538.51,551.28 L538.53,553.52 L538.54,556.00 L538.54,558.61 L538.50,561.22 L538.43,563.72 L538.30,566.00 L538.17,568.05 L538.08,570.00 L537.97,571.88 L537.82,573.75 L537.59,575.65 L537.24,577.62 L536.72,579.73 L536.00,582.00 L535.03,584.48 L533.83,587.12 L532.45,589.90 L530.95,592.75 L529.40,595.63 L527.85,598.50 L526.36,601.30 L525.00,604.00 L523.73,606.62 L522.47,609.23 L521.24,611.82 L520.03,614.38 L518.85,616.88 L517.70,619.33 L516.58,621.71 L515.50,624.00 L514.50,626.12 L513.61,628.02 L512.78,629.81 L511.97,631.56 L511.13,633.37 L510.21,635.32 L509.19,637.50 L508.00,640.00 L506.67,642.88 L505.23,646.07 L503.70,649.50 L502.09,653.06 L500.41,656.68 L498.66,660.27 L496.85,663.74 L495.00,667.00 L493.08,670.09 L491.08,673.12 L489.01,676.09 L486.88,679.00 L484.70,681.84 L482.48,684.62 L480.25,687.34 L478.00,690.00 L475.64,692.66 L473.11,695.34 L470.49,697.99 L467.88,700.56 L465.33,703.00 L462.95,705.26 L460.81,707.27 L459.00,709.00 L457.50,710.41 L456.24,711.55 L455.19,712.47 L454.31,713.19 L453.58,713.76 L452.98,714.23 L452.46,714.63 L452.00,715.00" fill="none" stroke="#ffffff" stroke-width="3.2" stroke-linejoin="round" stroke-linecap="round" stroke-linecap="butt"/>
<path d="M452.00,682.00 L457.50,678.50 L486.00,659.00" fill="none" stroke="#ffffff" stroke-width="3.0" stroke-linejoin="round" stroke-linecap="round" stroke-linecap="butt"/>
<path d="M452.00,716.00 L459.00,710.00 L497.00,684.00 L534.00,655.50 L549.00,649.00 L592.00,632.00 L612.00,623.00" fill="none" stroke="#ffffff" stroke-width="3.2" stroke-linejoin="round" stroke-linecap="round" stroke-linecap="butt"/>
<path d="M452.00,738.00 L466.00,734.00 L530.00,712.00 L592.00,698.00 L640.00,688.00" fill="none" stroke="#ffffff" stroke-width="3.0" stroke-linejoin="round" stroke-linecap="round" stroke-linecap="butt"/>
<path d="M604.00,559.00 L625.00,555.00 L648.00,553.00 L670.00,550.00" fill="none" stroke="#ffffff" stroke-width="2.6" stroke-linejoin="round" stroke-linecap="round" stroke-linecap="butt"/>
<path d="M648.00,555.00 L652.00,600.00 L657.00,640.00 L660.00,660.00" fill="none" stroke="#ffffff" stroke-width="2.6" stroke-linejoin="round" stroke-linecap="round" stroke-linecap="butt"/>
<path d="M629.00,604.00 L670.00,603.00" fill="none" stroke="#ffffff" stroke-width="2.6" stroke-linejoin="round" stroke-linecap="round" stroke-linecap="butt"/>
<path d="M605.00,558.00 L618.00,566.00 L622.00,580.00" fill="none" stroke="#ffffff" stroke-width="0.1" stroke-linejoin="round" stroke-linecap="round" stroke-linecap="butt"/>
<path d="M569.0,399.0 L574.0,402.0 L566.6,415.0 L561.0,412.4Z" fill="#c4c5c6" stroke="#9e9e9e" stroke-width="0.6"/>
<path d="M545.0,411.0 L560.0,415.0 L558.0,421.6 L543.0,418.0Z" fill="#c4c5c6" stroke="#9e9e9e" stroke-width="0.6"/>
<path d="M543.0,421.0 L585.0,431.0 L579.0,457.0 L537.0,446.0 L538.5,436.0 L535.5,435.0 L537.0,428.0 L540.0,429.0Z" fill="#c4c5c6" stroke="#9e9e9e" stroke-width="0.6"/>
<path d="M535.6,474.5 L545.0,473.5 L546.6,495.0 L537.0,496.5Z" fill="#c4c5c6" stroke="#9e9e9e" stroke-width="0.6"/>
<path d="M565.0,462.0 L571.0,463.0 L570.0,470.0 L574.0,478.0 L573.0,488.0 L567.0,488.0 L567.0,478.0 L564.0,472.0Z" fill="#c4c5c6" stroke="#9e9e9e" stroke-width="0.6"/>
<path d="M577.0,466.0 L605.0,472.0 L600.0,494.0 L573.0,490.0Z" fill="#c4c5c6" stroke="#9e9e9e" stroke-width="0.6"/>
<path d="M603.0,464.4 L610.0,443.0 L619.0,445.6 L612.0,467.0Z" fill="#c4c5c6" stroke="#9e9e9e" stroke-width="0.6"/>
<path d="M622.0,455.0 L627.6,447.0 L631.0,448.4 L628.0,458.0Z" fill="#c4c5c6" stroke="#9e9e9e" stroke-width="0.6"/>
<path d="M630.0,449.0 L635.0,450.0 L634.0,456.0 L640.0,457.0 L641.0,451.0 L646.0,452.0 L644.0,468.0 L639.0,467.0 L640.0,461.0 L634.0,460.0 L633.0,466.0 L628.0,465.0Z" fill="#c4c5c6" stroke="#9e9e9e" stroke-width="0.6"/>
<path d="M628.7,474.5 L636.4,476.6 L635.3,480.5 L627.6,478.4Z" fill="#c4c5c6" stroke="#9e9e9e" stroke-width="0.6"/>
<circle cx="630.5" cy="487" r="2.4" fill="#c4c5c6" stroke="#9e9e9e" stroke-width="0.6"/>
<path d="M552.0,511.5 L563.2,507.4 L568.0,520.5 L556.8,524.6Z" fill="#c4c5c6" stroke="#9e9e9e" stroke-width="0.6"/>
<path d="M580.0,512.0 L588.0,510.0 L598.0,536.0 L590.0,539.0Z" fill="#c4c5c6" stroke="#9e9e9e" stroke-width="0.6"/>
<path d="M604.4,506.6 L625.2,509.5 L623.6,520.4 L602.8,517.5Z" fill="#c4c5c6" stroke="#9e9e9e" stroke-width="0.6"/>
<path d="M629.1,509.9 L636.0,511.4 L632.9,526.1 L626.0,524.6Z" fill="#c4c5c6" stroke="#9e9e9e" stroke-width="0.6"/>
<path d="M625.1,527.9 L632.9,529.5 L628.9,548.1 L621.1,546.5Z" fill="#c4c5c6" stroke="#9e9e9e" stroke-width="0.6"/>
<path d="M600.0,530.0 L604.0,530.0 L603.0,537.0 L616.0,535.0 L617.0,542.0 L608.0,543.0 L607.0,550.0 L600.0,549.0Z" fill="#c4c5c6" stroke="#9e9e9e" stroke-width="0.6"/>
<path d="M604.0,562.2 L614.8,559.9 L616.0,565.8 L605.2,568.1Z" fill="#c4c5c6" stroke="#9e9e9e" stroke-width="0.6"/>
<path d="M603.8,571.2 L623.3,567.1 L626.2,580.8 L606.7,584.9Z" fill="#c4c5c6" stroke="#9e9e9e" stroke-width="0.6"/>
<path d="M621.6,559.6 L643.2,555.0 L648.4,579.4 L626.8,584.0Z" fill="#c4c5c6" stroke="#9e9e9e" stroke-width="0.6"/>
<path d="M644.5,582.5 L649.5,582.5 L649.5,591.5 L644.5,591.5Z" fill="#c4c5c6" stroke="#9e9e9e" stroke-width="0.6"/>
<path d="M632.0,592.0 L640.0,592.0 L640.0,596.0 L632.0,596.0Z" fill="#c4c5c6" stroke="#9e9e9e" stroke-width="0.6"/>
<path d="M634.5,596.5 L651.5,596.5 L651.5,602.5 L634.5,602.5Z" fill="#c4c5c6" stroke="#9e9e9e" stroke-width="0.6"/>
<path d="M624.0,608.0 L631.0,608.0 L631.0,614.0 L624.0,614.0Z" fill="#c4c5c6" stroke="#9e9e9e" stroke-width="0.6"/>
<path d="M635.7,608.4 L643.7,607.7 L644.3,614.6 L636.3,615.3Z" fill="#c4c5c6" stroke="#9e9e9e" stroke-width="0.6"/>
<path d="M646.1,608.8 L654.0,607.4 L655.9,618.2 L648.0,619.6Z" fill="#c4c5c6" stroke="#9e9e9e" stroke-width="0.6"/>
<path d="M625.5,620.6 L636.3,618.6 L638.5,631.4 L627.7,633.4Z" fill="#c4c5c6" stroke="#9e9e9e" stroke-width="0.6"/>
<path d="M642.8,626.9 L656.8,626.1 L657.2,633.1 L643.2,633.9Z" fill="#c4c5c6" stroke="#9e9e9e" stroke-width="0.6"/>
<path d="M660.0,584.0 L666.0,584.0 L666.0,599.0 L660.0,599.0Z" fill="#c4c5c6" stroke="#9e9e9e" stroke-width="0.6"/>
<path d="M549.0,558.0 L563.0,550.0 L586.0,611.0 L551.0,623.0 L543.0,601.0 L555.0,594.0Z" fill="#c4c5c6" stroke="#9e9e9e" stroke-width="0.6"/>
<path d="M575.0,621.5 L602.8,610.3 L607.0,620.5 L579.2,631.7Z" fill="#c4c5c6" stroke="#9e9e9e" stroke-width="0.6"/>
<path d="M550.3,626.4 L562.8,623.1 L566.7,637.6 L554.2,640.9Z" fill="#c4c5c6" stroke="#9e9e9e" stroke-width="0.6"/>
<path d="M562.7,625.1 L573.3,622.2 L575.3,629.9 L564.7,632.8Z" fill="#c4c5c6" stroke="#9e9e9e" stroke-width="0.6"/>
<path d="M565.0,645.4 L581.4,641.0 L584.0,650.6 L567.6,655.0Z" fill="#c4c5c6" stroke="#9e9e9e" stroke-width="0.6"/>
<path d="M625.7,643.0 L637.7,642.0 L638.3,649.0 L626.3,650.0Z" fill="#c4c5c6" stroke="#9e9e9e" stroke-width="0.6"/>
<path d="M482.9,644.6 L490.4,641.9 L493.1,649.4 L485.6,652.1Z" fill="#c4c5c6" stroke="#9e9e9e" stroke-width="0.6"/>
<path d="M495.4,639.1 L502.9,636.4 L505.6,643.9 L498.1,646.6Z" fill="#c4c5c6" stroke="#9e9e9e" stroke-width="0.6"/>
<path d="M491.0,652.1 L498.6,649.3 L501.0,655.9 L493.4,658.7Z" fill="#c4c5c6" stroke="#9e9e9e" stroke-width="0.6"/>
<path d="M472.2,653.5 L479.7,650.8 L481.8,656.5 L474.3,659.2Z" fill="#c4c5c6" stroke="#9e9e9e" stroke-width="0.6"/>
<path d="M458.0,666.4 L465.0,662.4 L468.0,667.6 L461.0,671.6Z" fill="#c4c5c6" stroke="#9e9e9e" stroke-width="0.6"/>
<path d="M458.9,695.8 L464.1,692.8 L466.1,696.2 L460.9,699.2Z" fill="#c4c5c6" stroke="#9e9e9e" stroke-width="0.6"/>
<path d="M475.4,698.6 L486.6,692.1 L492.6,702.4 L481.4,708.9Z" fill="#c4c5c6" stroke="#9e9e9e" stroke-width="0.6"/>
<path d="M487.2,711.5 L498.0,706.4 L501.8,714.5 L491.0,719.6Z" fill="#c4c5c6" stroke="#9e9e9e" stroke-width="0.6"/>
<path d="M512.8,684.4 L525.3,681.1 L529.2,695.6 L516.7,698.9Z" fill="#c4c5c6" stroke="#9e9e9e" stroke-width="0.6"/>
<path d="M540.2,687.5 L547.7,684.8 L549.8,690.5 L542.3,693.2Z" fill="#c4c5c6" stroke="#9e9e9e" stroke-width="0.6"/>
<path d="M512.1,702.4 L521.5,699.0 L523.9,705.6 L514.5,709.0Z" fill="#c4c5c6" stroke="#9e9e9e" stroke-width="0.6"/>
<path d="M548.2,646.9 L560.7,643.5 L563.8,655.1 L551.3,658.5Z" fill="#c4c5c6" stroke="#9e9e9e" stroke-width="0.6"/>
<path d="M516.3,662.4 L528.9,659.0 L531.7,669.6 L519.1,673.0Z" fill="#c4c5c6" stroke="#9e9e9e" stroke-width="0.6"/>
<path d="M523.8,631.6 L533.5,629.0 L538.2,646.4 L528.5,649.0Z" fill="#c4c5c6" stroke="#9e9e9e" stroke-width="0.6"/>
<path d="M536.0,718.1 L543.6,715.3 L546.0,721.9 L538.4,724.7Z" fill="#c4c5c6" stroke="#9e9e9e" stroke-width="0.6"/>
<path d="M536.9,722.4 L546.6,719.8 L555.1,751.6 L545.4,754.2Z" fill="#c4c5c6" stroke="#9e9e9e" stroke-width="0.6"/>
<path d="M521.5,741.3 L534.3,739.1 L538.5,762.7 L525.7,764.9Z" fill="#c4c5c6" stroke="#9e9e9e" stroke-width="0.6"/>
<path d="M464.0,756.0 L481.0,756.0 L481.0,773.0 L464.0,773.0Z" fill="#c4c5c6" stroke="#9e9e9e" stroke-width="0.6"/>
<path d="M491.0,740.0 L501.0,740.0 L501.0,758.0 L491.0,758.0Z" fill="#c4c5c6" stroke="#9e9e9e" stroke-width="0.6"/>
<path d="M501.0,758.0 L505.0,758.0 L505.0,762.0 L501.0,762.0Z" fill="#c4c5c6" stroke="#9e9e9e" stroke-width="0.6"/>
<path d="M475.0,736.0 L482.0,736.0 L482.0,748.0 L475.0,748.0Z" fill="#c4c5c6" stroke="#9e9e9e" stroke-width="0.6"/>
<path d="M482.2,733.2 L487.8,731.2 L489.8,736.8 L484.2,738.8Z" fill="#c4c5c6" stroke="#9e9e9e" stroke-width="0.6"/>
<path d="M456.4,725.7 L464.6,721.9 L467.6,728.3 L459.4,732.1Z" fill="#c4c5c6" stroke="#9e9e9e" stroke-width="0.6"/>
<path d="M468.3,720.9 L477.7,717.5 L479.7,723.1 L470.3,726.5Z" fill="#c4c5c6" stroke="#9e9e9e" stroke-width="0.6"/>
<path d="M486.2,725.5 L493.7,722.8 L495.8,728.5 L488.3,731.2Z" fill="#c4c5c6" stroke="#9e9e9e" stroke-width="0.6"/>
<path d="M502.5,719.1 L508.1,717.1 L509.5,720.9 L503.9,722.9Z" fill="#c4c5c6" stroke="#9e9e9e" stroke-width="0.6"/>
<path d="M458.4,683.7 L462.9,681.6 L465.4,687.0 L474.5,682.8 L476.6,687.3 L463.0,693.7Z" fill="#c4c5c6" stroke="#9e9e9e" stroke-width="0.6"/>
<path d="M469.6,673.6 L474.1,671.5 L476.2,676.1 L485.3,671.8 L487.4,676.4 L473.8,682.7Z" fill="#c4c5c6" stroke="#9e9e9e" stroke-width="0.6"/>
<path d="M482.4,667.4 L486.5,665.5 L487.9,668.7 L494.7,665.5 L496.6,669.6 L485.8,674.7Z" fill="#c4c5c6" stroke="#9e9e9e" stroke-width="0.6"/>
<path d="M492.0,768.0 L496.0,764.0 L501.0,764.0 L505.0,768.0 L505.0,774.0 L492.0,774.0Z" fill="#c4c5c6" stroke="#9e9e9e" stroke-width="0.6"/>
<path d="M457.50,44.60 L592.00,50.60 L643.50,52.50" fill="none" stroke="#2a2a2a" stroke-width="0.85" stroke-linejoin="round" stroke-linecap="round" />
<path d="M661.00,53.00 L666.00,53.20" fill="none" stroke="#2a2a2a" stroke-width="0.85" stroke-linejoin="round" stroke-linecap="round" />
<path d="M457.50,133.60 L592.00,137.40 L626.50,139.20" fill="none" stroke="#2a2a2a" stroke-width="0.85" stroke-linejoin="round" stroke-linecap="round" />
<path d="M644.00,140.80 L666.00,141.60" fill="none" stroke="#2a2a2a" stroke-width="0.85" stroke-linejoin="round" stroke-linecap="round" />
<path d="M457.50,219.20 L592.00,223.60 L643.50,226.00" fill="none" stroke="#2a2a2a" stroke-width="0.85" stroke-linejoin="round" stroke-linecap="round" />
<path d="M661.00,226.50 L666.00,226.80" fill="none" stroke="#2a2a2a" stroke-width="0.85" stroke-linejoin="round" stroke-linecap="round" />
<path d="M457.50,304.40 L592.00,308.40 L640.00,312.50" fill="none" stroke="#2a2a2a" stroke-width="0.85" stroke-linejoin="round" stroke-linecap="round" />
<path d="M658.00,313.60 L666.00,314.20" fill="none" stroke="#2a2a2a" stroke-width="0.85" stroke-linejoin="round" stroke-linecap="round" />
<path d="M457.50,392.40 L592.00,394.20 L643.50,397.20" fill="none" stroke="#2a2a2a" stroke-width="0.85" stroke-linejoin="round" stroke-linecap="round" />
<path d="M661.00,397.80 L666.00,398.20" fill="none" stroke="#2a2a2a" stroke-width="0.85" stroke-linejoin="round" stroke-linecap="round" />
<path d="M457.50,481.40 L515.00,484.00 L592.00,485.50 L640.00,487.00" fill="none" stroke="#2a2a2a" stroke-width="0.85" stroke-linejoin="round" stroke-linecap="round" />
<path d="M659.00,487.40 L666.00,487.70" fill="none" stroke="#2a2a2a" stroke-width="0.85" stroke-linejoin="round" stroke-linecap="round" />
<path d="M457.50,570.40 L592.00,575.60 L643.50,577.20" fill="none" stroke="#2a2a2a" stroke-width="0.85" stroke-linejoin="round" stroke-linecap="round" />
<path d="M661.00,577.40 L666.00,577.50" fill="none" stroke="#2a2a2a" stroke-width="0.85" stroke-linejoin="round" stroke-linecap="round" />
<path d="M480.00,662.00 L553.00,665.50" fill="none" stroke="#2a2a2a" stroke-width="0.85" stroke-linejoin="round" stroke-linecap="round" />
<path d="M480.00,748.60 L553.00,751.80" fill="none" stroke="#2a2a2a" stroke-width="0.85" stroke-linejoin="round" stroke-linecap="round" />
<path d="M457.50,661.30 L462.50,661.60" fill="none" stroke="#2a2a2a" stroke-width="0.85" stroke-linejoin="round" stroke-linecap="round" />
<path d="M457.50,748.00 L462.50,748.20" fill="none" stroke="#2a2a2a" stroke-width="0.85" stroke-linejoin="round" stroke-linecap="round" />
<text x="642.8" y="56.5" font-size="11.1" text-anchor="start" fill="#1a1a1a" >195</text>
<text x="625.9" y="143.5" font-size="11.1" text-anchor="start" fill="#1a1a1a" >196</text>
<text x="642.8" y="230.2" font-size="11.1" text-anchor="start" fill="#1a1a1a" >197</text>
<text x="639.3" y="316.8" font-size="11.1" text-anchor="start" fill="#1a1a1a" >198</text>
<text x="642.8" y="401.4" font-size="11.1" text-anchor="start" fill="#1a1a1a" >199</text>
<text x="639.7" y="491.1" font-size="11.1" text-anchor="start" fill="#1a1a1a" >200</text>
<text x="642.8" y="581.3" font-size="11.1" text-anchor="start" fill="#1a1a1a" >201</text>
<text x="461.7" y="665.9" font-size="11.1" text-anchor="start" fill="#1a1a1a" >202</text>
<text x="461.7" y="752.3" font-size="11.1" text-anchor="start" fill="#1a1a1a" >203</text>
<text x="644.0" y="151.0" font-size="11.1" text-anchor="start" fill="#9c9c9c" >196</text>
<text x="633.9" y="256.9" font-size="11.1" text-anchor="start" fill="#9c9c9c" >197</text>
<text x="637.9" y="359.5" font-size="11.1" text-anchor="start" fill="#9c9c9c" >198</text>
<text x="640.9" y="455.9" font-size="11.1" text-anchor="start" fill="#9c9c9c" >199</text>
<text x="641.9" y="553.9" font-size="11.1" text-anchor="start" fill="#9c9c9c" >200</text>
<text x="460.9" y="637.5" font-size="11.1" text-anchor="start" fill="#9c9c9c" >201</text>
<text x="641.9" y="646.9" font-size="11.1" text-anchor="start" fill="#9c9c9c" >201</text>
<text x="460.9" y="718.4" font-size="11.1" text-anchor="start" fill="#9c9c9c" >202</text>
<path d="M592.63,21.33 L593.93,21.99 L595.10,22.79 L596.08,23.90 L597.47,24.51 L598.28,25.74 L600.63,25.75 L600.69,27.56 L600.28,29.25 L601.19,30.52 L601.06,32.13 L603.01,33.08 L602.92,34.70 L603.96,35.86 L604.09,37.46 L604.68,38.84 L606.31,39.82 L606.42,41.43 L606.65,42.96 L605.60,44.61 L606.01,46.06 L607.32,47.47 L606.16,49.06 L607.58,50.46 L606.71,52.02 L607.78,53.46 L608.11,54.95 L606.45,56.54 L607.85,57.97 L607.92,59.47 L606.47,61.05 L606.77,62.54 L608.03,63.96 L606.79,65.55 L607.73,66.99 L607.56,68.50 L608.61,69.93 L607.24,71.53 L607.84,72.99 L607.37,74.51 L607.59,76.00 L608.84,77.45 L608.75,78.96 L609.17,80.46 L609.21,81.96 L609.37,83.47 L608.87,84.97 L608.24,86.46 L609.39,87.99 L608.00,89.45 L608.63,90.97 L608.63,92.47 L607.56,93.93 L608.18,95.46 L608.46,96.97 L608.08,98.46 L607.59,99.94 L608.85,101.47 L606.98,102.93 L608.85,104.47 L607.36,105.94 L607.14,107.44 L608.76,108.97 L607.19,110.44 L608.00,111.96 L607.54,113.45 L608.63,114.98 L608.52,116.48 L608.20,117.97 L606.61,119.42 L608.07,120.97 L606.89,122.43 L606.48,123.91 L606.39,125.40 L607.52,126.96 L607.42,128.45 L607.01,129.94 L606.44,131.41 L607.70,132.97 L606.35,134.41 L606.18,135.90 L605.99,137.40 L607.57,138.97 L605.70,140.40 L607.36,141.95 L606.81,143.43 L606.23,144.92 L605.58,146.41 L606.70,147.93 L605.50,149.40 L606.22,150.92 L606.65,152.43 L606.60,153.93 L606.83,155.44 L606.98,156.95 L606.77,158.45 L605.63,159.90 L604.92,161.36 L606.50,162.96 L606.63,164.47 L604.65,165.84 L605.44,167.40 L605.58,168.91 L605.80,170.43 L604.96,171.87 L604.38,173.33 L605.00,174.88 L604.94,176.38 L605.55,177.94 L603.72,179.30 L605.37,180.93 L604.33,182.36 L603.53,183.80 L604.82,185.40 L603.50,186.80 L602.94,188.26 L603.46,189.81 L603.03,191.28 L604.27,192.88 L603.51,194.33 L603.97,195.86 L602.48,197.27 L603.48,198.83 L603.08,200.31 L601.91,201.75 L602.12,203.26 L601.80,204.75 L602.77,206.30 L602.64,207.80 L602.09,209.27 L602.53,210.79 L602.84,212.31 L602.56,213.80 L603.02,215.32 L602.50,216.80 L601.22,218.25 L601.21,219.75 L601.82,221.27 L602.01,222.78 L602.27,224.30 L602.70,225.81 L602.27,227.30 L601.19,228.75 L600.96,230.24 L601.90,231.79 L600.99,233.25 L600.95,234.75 L601.04,236.25 L601.04,237.76 L600.79,239.25 L601.52,240.78 L600.77,242.25 L601.56,243.78 L601.09,245.26 L600.46,246.74 L600.56,248.25 L601.29,249.78 L599.93,251.22 L600.46,252.75 L600.54,254.25 L601.63,255.79 L600.50,257.25 L601.04,258.77 L600.15,260.24 L600.52,261.75 L599.77,263.23 L600.06,264.74 L599.71,266.23 L600.57,267.76 L599.94,269.24 L599.71,270.73 L599.49,272.23 L600.41,273.75 L599.39,275.23 L599.29,276.73 L599.62,278.24 L599.01,279.72 L599.01,281.22 L599.85,282.74 L599.79,284.24 L600.48,285.76 L599.10,287.23 L598.86,288.72 L599.71,290.24 L599.56,291.74 L599.50,293.24 L599.45,294.74 L599.68,296.24 L599.33,297.73 L599.38,299.24 L599.29,300.73 L599.36,302.24 L599.21,303.73 L599.08,305.23 L599.09,306.73 L598.99,308.23 L599.28,309.74 L599.16,311.24 L598.95,312.73 L598.78,314.22 L598.93,315.73 L598.62,317.22 L598.57,318.72 L598.79,320.23 L598.49,321.72 L598.53,323.22 L598.53,324.73 L598.40,326.22 L598.23,327.71 L598.21,329.21 L598.11,330.71 L598.09,332.21 L597.79,333.70 L597.74,335.20 L597.53,336.69 L597.44,338.18 L597.52,339.69 L597.09,341.17 L597.44,342.69 L597.14,344.18 L597.11,345.68 L596.94,347.17 L596.99,348.68 L596.53,350.15 L596.66,351.66 L596.73,353.17 L596.34,354.65 L596.50,356.16 L596.17,357.64 L596.17,359.15 L595.95,360.63 L595.66,362.12 L595.63,363.62 L595.73,365.13 L595.43,366.61 L595.41,368.12 L595.45,369.62 L595.46,371.13 L595.13,372.61 L595.04,374.10 L594.74,375.59 L594.64,377.08 L594.71,378.59 L594.74,380.10 L594.37,381.58 L594.71,383.10 L594.56,384.60 L594.23,386.08 L594.11,387.57 L594.24,389.08 L593.90,390.56 L593.66,392.05 L593.82,393.57 L593.69,395.06 L593.69,396.56 L593.56,398.06 L593.12,399.53 L593.31,401.05 L592.92,402.52 L592.84,404.02 L592.89,405.53 L592.96,407.04 L592.50,408.51 L592.63,410.02 L592.57,411.52 L592.52,413.02 L592.08,414.50 L592.22,416.01 L592.22,417.51 L592.02,419.00 L592.10,420.51 L591.75,421.99 L591.73,423.49 L591.71,424.99 L591.36,426.47 L591.24,427.97 L591.54,429.49 L591.18,430.97 L591.21,432.48 L590.79,433.95 L590.77,435.46 L590.94,436.97 L590.83,438.47 L590.79,439.97 L590.28,441.44 L590.53,442.96 L590.28,444.44 L590.26,445.94 L590.08,447.44 L590.01,448.94 L589.85,450.43 L590.09,451.94 L589.68,453.42 L589.83,454.93 L589.63,456.43 L589.65,457.93 L589.59,459.43 L589.41,460.92 L589.37,462.42 L589.34,463.92 L589.08,465.41 L589.09,466.91 L589.30,468.42 L589.12,469.92 L588.95,471.41 L588.66,472.90 L588.61,474.40 L588.72,475.90 L588.92,477.41 L588.48,478.90 L588.59,480.40 L588.46,481.90 L588.33,483.39 L588.31,484.90 L588.32,486.40 L588.05,487.89 L588.25,489.40 L588.18,490.90 L587.89,492.38 L588.16,493.90 L588.05,495.39 L587.73,496.88 L588.05,498.39 L587.62,499.88 L587.64,501.38 L587.73,502.89 L587.76,504.39 L587.48,505.88 L587.38,507.38 L587.72,508.89 L587.51,510.38 L587.43,511.88 L587.39,513.38 L587.40,514.88 L587.41,516.39 L587.10,517.87 L586.89,519.36 L587.15,520.88 L586.96,522.37 L586.56,523.85 L586.47,525.34 L586.43,526.85 L586.64,528.37 L586.18,529.83 L585.93,531.32 L585.79,532.81 L585.79,534.31 L585.94,535.84 L585.38,537.28 L585.46,538.81 L585.01,540.26 L584.60,541.70 L584.35,543.17 L584.26,544.71 L583.69,546.10 L582.87,547.39 L582.58,548.90 L581.68,550.13 L580.96,551.44 L580.22,552.76 L579.08,553.78 L578.31,555.10 L577.23,556.16 L576.05,557.10 L575.05,558.24 L573.87,559.18 L572.49,559.84 L571.17,560.55 L569.81,561.16 L568.61,562.13 L567.16,562.57 L565.77,563.14 L564.31,563.51 L562.90,564.04 L561.41,564.27 L560.05,564.96 L558.63,565.48 L557.09,565.49 L555.65,565.99 L554.14,565.91 L552.64,566.05 L551.16,565.80 L549.66,565.78 L548.20,565.45 L546.71,565.22 L545.33,564.60 L543.89,564.16 L542.64,563.29 L541.26,562.71 L539.86,562.13 L538.61,561.28 L537.41,560.38 L536.32,559.33 L534.98,558.59 L534.06,557.38 L533.01,556.32 L531.81,555.37 L531.11,554.01 L530.02,552.94 L529.20,551.68 L528.60,550.28 L527.70,549.07 L527.26,547.60 L526.44,546.34 L525.74,545.01 L525.39,543.53 L524.50,542.26 L524.36,540.72 L523.61,539.38 L523.29,537.91 L523.35,536.36 L522.93,534.92 L522.45,533.48 L522.18,532.00 L522.39,530.45 L522.06,528.99 L521.96,527.49 L521.46,526.03 L521.54,524.52 L521.25,523.04 L521.03,521.55 L520.92,520.06 L521.08,518.53 L520.39,517.10 L520.32,515.59 L519.69,514.14 L520.94,512.53 L520.45,511.07 L520.64,509.55 L519.79,508.11 L520.52,506.55 L519.75,505.10 L519.80,503.60 L519.66,502.10 L519.90,500.58 L519.11,499.13 L518.42,497.67 L518.20,496.18 L518.45,494.67 L518.02,493.19 L519.62,491.58 L518.71,490.14 L519.18,488.61 L517.56,487.21 L518.40,485.65 L519.14,484.10 L518.51,482.64 L518.03,481.16 L518.01,479.66 L517.18,478.21 L517.19,476.71 L517.11,475.21 L517.45,473.69 L517.38,472.19 L518.27,470.63 L516.72,469.22 L516.84,467.71 L516.80,466.21 L516.48,464.73 L516.64,463.21 L516.46,461.72 L516.86,460.20 L515.88,458.75 L517.59,457.16 L516.40,455.71 L517.47,454.16 L516.89,452.69 L516.79,451.19 L516.31,449.71 L517.20,448.17 L515.49,446.74 L516.53,445.20 L515.72,443.73 L516.43,442.20 L516.48,440.70 L515.31,439.23 L515.35,437.73 L514.96,436.24 L515.33,434.73 L514.99,433.24 L515.60,431.72 L516.72,430.20 L515.48,428.72 L515.35,427.22 L515.64,425.72 L515.25,424.22 L516.13,422.71 L516.09,421.22 L514.97,419.72 L515.12,418.22 L515.98,416.72 L516.51,415.22 L515.93,413.72 L515.50,412.22 L516.60,410.72 L514.67,409.21 L514.79,407.71 L516.24,406.23 L515.52,404.72 L514.82,403.21 L515.85,401.72 L516.75,400.23 L515.83,398.72 L515.53,397.21 L515.05,395.70 L515.04,394.20 L516.73,392.74 L515.95,391.22 L516.88,389.75 L515.17,388.19 L515.60,386.71 L515.27,385.19 L516.01,383.72 L515.39,382.20 L515.83,380.71 L516.20,379.22 L516.06,377.71 L515.62,376.19 L515.66,374.69 L517.59,373.28 L516.08,371.71 L516.80,370.24 L516.67,368.73 L517.00,367.24 L516.18,365.70 L516.72,364.23 L516.39,362.71 L517.33,361.25 L518.16,359.80 L517.60,358.26 L518.20,356.80 L517.00,355.23 L516.69,353.71 L517.81,352.27 L517.79,350.76 L518.04,349.28 L517.74,347.76 L518.32,346.29 L518.61,344.80 L519.07,343.32 L517.94,341.76 L518.31,340.28 L519.15,338.82 L518.03,337.26 L517.90,335.75 L518.38,334.27 L518.02,332.75 L519.47,331.33 L519.65,329.83 L518.72,328.28 L518.44,326.76 L518.43,325.26 L518.83,323.78 L518.60,322.26 L519.37,320.80 L519.75,319.32 L519.18,317.79 L518.90,316.27 L520.27,314.85 L519.06,313.27 L519.46,311.79 L519.73,310.30 L520.01,308.82 L519.57,307.28 L520.33,305.83 L520.24,304.32 L521.24,302.90 L520.99,301.37 L521.80,299.95 L521.49,298.41 L521.86,296.95 L521.67,295.42 L521.61,293.90 L522.55,292.51 L522.45,290.99 L523.27,289.60 L523.05,288.05 L523.23,286.56 L522.60,284.94 L523.90,283.62 L523.26,282.01 L522.95,280.46 L523.01,278.96 L523.38,277.51 L523.71,276.04 L524.68,274.62 L524.04,273.06 L523.71,271.53 L525.23,270.15 L524.93,268.62 L523.98,267.04 L524.14,265.55 L524.41,264.07 L524.97,262.60 L526.09,261.19 L526.39,259.71 L525.83,258.16 L525.21,256.60 L525.75,255.14 L525.76,253.63 L525.87,252.13 L525.40,250.57 L526.71,249.21 L527.38,247.78 L527.36,246.27 L526.30,244.62 L527.35,243.24 L526.84,241.66 L528.10,240.32 L527.77,238.76 L528.94,237.40 L528.85,235.88 L527.71,234.22 L528.29,232.78 L529.66,231.44 L528.94,229.84 L529.06,228.34 L529.24,226.85 L530.06,225.43 L530.56,223.98 L529.92,222.40 L530.95,221.00 L530.37,219.43 L529.55,217.83 L531.13,216.50 L530.51,214.92 L529.94,213.35 L531.95,212.07 L530.25,210.36 L531.51,209.00 L531.51,207.48 L532.49,206.10 L531.72,204.49 L531.58,202.95 L531.92,201.48 L531.99,199.97 L532.93,198.60 L532.76,197.05 L533.77,195.70 L533.01,194.05 L533.47,192.61 L533.52,191.09 L535.22,189.86 L535.19,188.34 L535.47,186.86 L535.28,185.31 L535.11,183.75 L534.88,182.19 L536.50,180.96 L536.11,179.36 L535.51,177.71 L536.08,176.28 L536.26,174.78 L537.81,173.60 L538.51,172.22 L537.49,170.45 L538.98,169.24 L538.35,167.58 L539.33,166.23 L539.92,164.80 L539.66,163.24 L540.21,161.79 L539.56,160.20 L539.00,158.62 L540.17,157.25 L540.49,155.78 L539.86,154.20 L540.43,152.75 L540.48,151.24 L540.09,149.68 L540.84,148.26 L541.17,146.79 L541.55,145.33 L542.18,143.90 L541.77,142.33 L543.13,141.01 L543.03,139.49 L543.48,138.06 L543.30,136.51 L543.58,135.05 L543.71,133.55 L544.66,132.29 L544.33,130.59 L545.26,129.32 L545.87,127.93 L545.94,126.39 L545.81,124.82 L545.71,123.28 L546.00,121.82 L546.80,120.45 L547.50,119.05 L548.12,117.63 L548.29,116.14 L547.75,114.52 L549.24,113.27 L548.24,111.55 L549.39,110.25 L548.43,108.53 L550.07,107.33 L550.21,105.83 L551.09,104.48 L551.28,103.00 L551.19,101.44 L551.81,100.04 L551.94,98.54 L552.03,97.02 L551.58,95.38 L552.53,94.06 L553.62,92.78 L552.71,91.01 L554.51,89.92 L554.06,88.26 L554.15,86.73 L553.79,85.08 L554.93,83.83 L554.93,82.27 L556.25,81.09 L557.13,79.78 L557.57,78.35 L557.42,76.74 L557.41,75.18 L557.31,73.57 L558.87,72.49 L559.07,70.98 L559.86,69.66 L559.71,68.02 L561.18,66.95 L560.41,65.09 L561.09,63.74 L561.51,62.30 L562.66,61.11 L563.66,59.86 L562.76,57.98 L564.12,56.85 L564.85,55.51 L564.29,53.75 L564.44,52.23 L565.84,51.09 L566.72,49.76 L567.14,48.33 L567.26,46.86 L567.29,45.26 L568.01,43.93 L568.94,42.74 L570.36,41.86 L570.14,39.95 L570.90,38.66 L572.24,37.72 L573.64,36.81 L573.06,34.72 L573.54,33.27 L574.44,32.05 L575.97,31.21 L576.82,29.98 L576.93,28.26 L577.83,27.01 L579.41,26.36 L580.57,25.46 L581.84,24.72 L583.15,24.06 L583.95,22.21 L585.68,22.42 L587.31,22.61 L588.78,22.44 L589.95,20.87 L591.58,21.75 L592.63,21.33" fill="none" stroke="#f08a2c" stroke-width="1.2" stroke-linejoin="round" stroke-linecap="round" />
<path d="M537.27,590.69 L538.60,591.16 L540.02,591.64 L541.37,592.38 L542.75,593.14 L543.14,594.87 L544.32,595.82 L544.95,597.25 L546.38,598.03 L546.51,599.60 L547.50,600.89 L546.96,602.48 L547.20,603.95 L547.76,605.41 L547.67,606.92 L547.53,608.42 L548.26,609.90 L547.77,611.41 L547.43,612.91 L548.16,614.42 L547.38,615.90 L547.46,617.40 L547.16,618.87 L547.75,620.42 L547.96,621.95 L546.82,623.35 L546.66,624.83 L546.99,626.38 L547.30,627.93 L546.98,629.40 L546.19,630.82 L546.49,632.36 L545.39,633.74 L545.72,635.29 L546.07,636.85 L545.25,638.26 L545.47,639.80 L544.47,641.18 L544.31,642.67 L544.65,644.23 L544.26,645.69 L543.98,647.16 L543.62,648.63 L543.18,650.08 L544.29,651.75 L543.62,653.17 L543.07,654.61 L543.28,656.15 L542.67,657.58 L543.15,659.17 L541.84,660.49 L542.11,662.05 L542.46,663.61 L541.49,664.99 L541.76,666.54 L541.71,668.05 L541.10,669.48 L541.37,671.03 L541.06,672.50 L539.94,673.86 L539.96,675.38 L540.70,677.00 L539.43,678.33 L540.28,679.97 L539.64,681.39 L538.64,682.77 L538.82,684.31 L539.05,685.85 L538.74,687.33 L538.52,688.81 L538.67,690.35 L537.25,691.66 L538.35,693.33 L537.62,694.74 L536.96,696.16 L537.23,697.72 L536.21,699.08 L537.01,700.72 L535.77,702.05 L535.66,703.55 L535.75,705.08 L535.22,706.52 L535.61,708.09 L534.85,709.49 L534.68,710.99 L534.84,712.53 L534.68,714.02 L534.13,715.45 L534.31,717.00 L534.51,718.55 L533.35,719.88 L533.76,721.48 L533.16,722.89 L532.46,724.28 L532.97,725.93 L532.82,727.44 L532.31,728.87 L531.27,730.14 L531.16,731.67 L530.84,733.15 L530.11,734.49 L528.97,735.66 L529.29,737.40 L528.50,738.70 L527.25,739.75 L526.88,741.24 L526.51,742.78 L525.42,743.86 L524.51,745.05 L523.87,746.51 L522.57,747.36 L521.52,748.45 L519.92,748.80 L518.95,750.11 L517.40,750.16 L516.06,749.76 L514.81,749.39 L513.19,749.26 L512.23,748.06 L510.88,747.31 L509.90,746.16 L508.96,744.99 L508.21,743.62 L507.32,742.42 L505.66,741.88 L504.43,740.85 L504.22,739.21 L503.08,738.05 L502.52,736.61 L503.10,734.87 L501.82,733.64 L502.34,731.99 L501.55,730.62 L502.09,729.00 L501.73,727.54 L500.41,726.22 L500.40,724.70 L501.27,723.09 L500.65,721.65 L500.25,720.19 L500.62,718.65 L500.57,717.16 L500.03,715.69 L499.93,714.19 L499.38,712.70 L499.70,711.19 L499.39,709.69 L500.06,708.19 L500.04,706.69 L499.43,705.18 L500.15,703.70 L499.45,702.17 L499.54,700.67 L500.37,699.21 L500.20,697.69 L500.93,696.25 L500.67,694.72 L500.92,693.24 L500.29,691.67 L501.44,690.30 L500.63,688.66 L501.61,687.30 L502.28,685.91 L502.60,684.46 L502.90,683.00 L502.69,681.40 L503.40,680.04 L503.94,678.64 L503.48,676.94 L504.99,675.82 L505.36,674.37 L505.15,672.74 L506.01,671.43 L505.96,669.86 L506.13,668.35 L507.11,667.06 L506.64,665.37 L508.04,664.21 L508.69,662.84 L508.17,661.13 L509.47,659.94 L508.73,658.17 L510.19,657.02 L509.82,655.36 L511.16,654.18 L510.85,652.53 L511.91,651.27 L511.12,649.49 L511.58,648.07 L512.96,646.89 L513.10,645.37 L513.32,643.88 L512.98,642.26 L513.49,640.85 L514.07,639.44 L513.92,637.88 L515.50,636.66 L515.47,635.13 L516.00,633.71 L515.97,632.17 L515.80,630.60 L515.81,629.04 L517.09,627.85 L516.75,626.15 L517.84,624.95 L518.30,623.51 L518.95,622.16 L519.04,620.55 L519.66,619.19 L520.83,618.07 L520.73,616.44 L521.87,615.26 L521.81,613.68 L522.38,612.29 L522.58,610.79 L523.51,609.48 L523.63,607.96 L523.81,606.45 L524.25,605.00 L525.21,603.74 L526.24,602.58 L526.29,600.94 L526.74,599.45 L527.75,598.30 L528.55,597.01 L529.84,596.11 L531.06,595.22 L531.92,593.97 L532.71,592.58 L534.01,591.78 L535.28,590.94 L536.66,590.34 L537.27,590.69" fill="none" stroke="#f08a2c" stroke-width="1.2" stroke-linejoin="round" stroke-linecap="round" />
<path d="M562.50,152.00 L563.38,152.22 L564.27,152.93 L565.14,154.04 L566.00,155.44 L566.83,157.03 L567.61,158.73 L568.34,160.42 L569.00,162.00 L569.59,163.42 L570.11,164.75 L570.58,166.08 L571.00,167.50 L571.39,169.11 L571.77,171.00 L572.13,173.27 L572.50,176.00 L572.86,179.25 L573.21,182.95 L573.53,187.02 L573.84,191.38 L574.14,195.93 L574.43,200.61 L574.72,205.33 L575.00,210.00 L575.28,214.41 L575.57,218.55 L575.86,222.63 L576.13,226.88 L576.39,231.51 L576.62,236.77 L576.83,242.85 L577.00,250.00 L577.12,258.59 L577.18,268.56 L577.21,279.51 L577.22,291.00 L577.23,302.62 L577.25,313.94 L577.30,324.54 L577.40,334.00 L577.54,342.45 L577.72,350.34 L577.92,357.75 L578.13,364.75 L578.35,371.40 L578.58,377.78 L578.80,383.96 L579.00,390.00 L579.20,395.60 L579.41,400.56 L579.61,405.12 L579.82,409.50 L580.02,413.95 L580.20,418.69 L580.36,423.96 L580.50,430.00 L580.62,437.17 L580.73,445.39 L580.83,454.26 L580.91,463.38 L580.97,472.31 L581.00,480.67 L581.02,488.04 L581.00,494.00 L580.97,498.42 L580.95,501.64 L580.91,503.94 L580.84,505.62 L580.73,506.98 L580.57,508.30 L580.33,509.87 L580.00,512.00 L579.59,514.59 L579.10,517.34 L578.55,520.18 L577.94,523.06 L577.27,525.94 L576.55,528.76 L575.80,531.46 L575.00,534.00 L574.17,536.43 L573.30,538.84 L572.40,541.18 L571.44,543.44 L570.42,545.58 L569.35,547.57 L568.21,549.39 L567.00,551.00 L565.68,552.42 L564.23,553.66 L562.71,554.75 L561.12,555.69 L559.53,556.47 L557.95,557.12 L556.43,557.62 L555.00,558.00 L553.65,558.26 L552.36,558.39 L551.10,558.39 L549.88,558.25 L548.66,557.95 L547.45,557.48 L546.24,556.84 L545.00,556.00 L543.73,554.96 L542.43,553.71 L541.12,552.28 L539.81,550.69 L538.53,548.94 L537.29,547.07 L536.11,545.08 L535.00,543.00 L533.95,540.83 L532.93,538.57 L531.96,536.19 L531.03,533.69 L530.16,531.03 L529.36,528.21 L528.64,525.21 L528.00,522.00 L527.45,518.58 L526.99,514.96 L526.60,511.16 L526.28,507.19 L526.02,503.07 L525.81,498.82 L525.64,494.46 L525.50,490.00 L525.40,485.23 L525.36,480.05 L525.36,474.62 L525.41,469.12 L525.50,463.74 L525.63,458.64 L525.80,454.00 L526.00,450.00 L526.26,446.86 L526.60,444.52 L526.99,442.69 L527.41,441.12 L527.84,439.54 L528.26,437.67 L528.66,435.25 L529.00,432.00 L529.29,427.99 L529.56,423.52 L529.80,418.62 L530.02,413.38 L530.25,407.83 L530.48,402.05 L530.73,396.08 L531.00,390.00 L531.30,383.45 L531.64,376.23 L531.98,368.62 L532.34,360.88 L532.69,353.27 L533.02,346.08 L533.33,339.56 L533.60,334.00 L533.82,329.61 L534.00,326.22 L534.14,323.54 L534.28,321.25 L534.41,319.06 L534.57,316.66 L534.76,313.74 L535.00,310.00 L535.29,305.40 L535.61,300.22 L535.96,294.61 L536.34,288.75 L536.73,282.79 L537.14,276.91 L537.57,271.25 L538.00,266.00 L538.45,261.10 L538.91,256.39 L539.38,251.83 L539.88,247.38 L540.38,243.00 L540.91,238.67 L541.45,234.35 L542.00,230.00 L542.58,225.56 L543.20,221.03 L543.85,216.49 L544.50,212.00 L545.15,207.64 L545.80,203.47 L546.42,199.57 L547.00,196.00 L547.55,192.78 L548.07,189.85 L548.57,187.17 L549.06,184.69 L549.54,182.37 L550.02,180.18 L550.51,178.07 L551.00,176.00 L551.48,174.03 L551.92,172.21 L552.35,170.52 L552.78,168.94 L553.24,167.42 L553.75,165.95 L554.33,164.48 L555.00,163.00 L555.78,161.39 L556.65,159.62 L557.60,157.81 L558.59,156.06 L559.61,154.50 L560.61,153.23 L561.59,152.36 L562.50,152.00 L562.50,152.00" fill="none" stroke="#7a2c8e" stroke-width="1.15" stroke-linejoin="round" stroke-linecap="round" />
<path d="M523.40,609.00 L523.80,609.08 L524.17,609.54 L524.50,610.34 L524.80,611.44 L525.08,612.79 L525.33,614.37 L525.57,616.12 L525.80,618.00 L526.02,620.11 L526.21,622.52 L526.39,625.17 L526.55,628.00 L526.69,630.96 L526.81,633.98 L526.92,637.02 L527.00,640.00 L527.06,642.91 L527.11,645.80 L527.13,648.72 L527.14,651.69 L527.13,654.76 L527.10,657.98 L527.06,661.38 L527.00,665.00 L526.93,668.90 L526.86,673.05 L526.76,677.39 L526.66,681.88 L526.53,686.44 L526.38,691.02 L526.20,695.56 L526.00,700.00 L525.79,704.53 L525.59,709.27 L525.37,714.09 L525.12,718.88 L524.83,723.49 L524.48,727.80 L524.04,731.68 L523.50,735.00 L522.83,737.81 L522.04,740.25 L521.16,742.34 L520.22,744.09 L519.25,745.52 L518.29,746.64 L517.36,747.46 L516.50,748.00 L515.68,748.22 L514.86,748.10 L514.04,747.65 L513.25,746.91 L512.49,745.89 L511.77,744.64 L511.10,743.16 L510.50,741.50 L509.96,739.59 L509.46,737.38 L509.00,734.91 L508.59,732.22 L508.24,729.34 L507.93,726.32 L507.69,723.20 L507.50,720.00 L507.38,716.62 L507.32,712.98 L507.32,709.15 L507.38,705.22 L507.48,701.26 L507.62,697.35 L507.79,693.57 L508.00,690.00 L508.25,686.65 L508.55,683.45 L508.90,680.35 L509.28,677.31 L509.69,674.30 L510.12,671.27 L510.56,668.19 L511.00,665.00 L511.45,661.66 L511.93,658.18 L512.43,654.63 L512.94,651.06 L513.46,647.55 L513.98,644.16 L514.49,640.96 L515.00,638.00 L515.50,635.27 L515.99,632.70 L516.48,630.28 L516.98,628.00 L517.47,625.84 L517.97,623.80 L518.48,621.85 L519.00,620.00 L519.54,618.15 L520.12,616.29 L520.71,614.48 L521.30,612.81 L521.88,611.35 L522.43,610.18 L522.94,609.37 L523.40,609.00 L523.40,609.00" fill="none" stroke="#7a2c8e" stroke-width="1.15" stroke-linejoin="round" stroke-linecap="round" />
<path d="M549.04,335.79 L550.56,335.88 L551.88,336.83 L553.52,336.59 L554.77,337.60 L556.23,337.99 L557.76,338.29 L558.85,339.47 L560.43,339.83 L561.36,341.12 L562.80,341.78 L563.87,342.88 L564.58,344.28 L565.15,345.74 L566.72,346.45 L567.46,347.77 L567.85,349.30 L568.25,350.78 L569.34,351.89 L570.20,353.14 L570.15,354.79 L571.76,355.76 L571.37,357.51 L572.53,358.69 L573.18,360.06 L573.68,361.47 L573.93,362.97 L573.82,364.59 L575.01,365.78 L575.01,367.35 L575.41,368.80 L576.18,370.13 L576.44,371.62 L577.45,372.87 L577.90,374.31 L578.17,375.80 L578.06,377.40 L578.77,378.75 L579.32,380.15 L579.40,381.69 L579.95,383.09 L580.51,384.50 L580.29,386.10 L580.76,387.53 L581.62,388.87 L581.56,390.42 L581.93,391.87 L581.82,393.43 L582.29,394.86 L583.09,396.23 L582.55,397.86 L583.82,399.16 L583.72,400.70 L583.56,402.24 L584.50,403.61 L584.33,405.16 L585.08,406.56 L584.54,408.16 L584.63,409.66 L585.06,411.11 L584.90,412.65 L585.77,414.04 L585.52,415.59 L585.84,417.06 L586.05,418.55 L586.38,420.02 L586.10,421.56 L586.15,423.06 L586.87,424.49 L586.79,426.01 L587.66,427.43 L587.03,428.99 L587.21,430.48 L586.91,432.01 L587.24,433.48 L587.97,434.94 L587.93,436.45 L587.68,437.96 L588.54,439.42 L588.08,440.94 L588.49,442.43 L588.61,443.93 L588.73,445.42 L587.94,446.95 L588.75,448.43 L588.65,449.93 L588.51,451.44 L587.97,452.95 L588.95,454.43 L588.55,455.94 L588.46,457.44 L588.09,458.95 L588.19,460.45 L588.16,461.95 L588.89,463.43 L588.75,464.94 L588.84,466.44 L588.24,467.94 L588.17,469.44 L589.15,470.93 L589.14,472.43 L589.09,473.93 L589.11,475.43 L588.83,476.94 L588.72,478.44 L589.13,479.93 L589.46,481.43 L588.97,482.94 L589.05,484.43 L588.83,485.94 L588.38,487.44 L588.71,488.94 L588.94,490.44 L588.84,491.94 L588.78,493.44 L589.56,494.93 L588.57,496.45 L588.75,497.94 L588.67,499.45 L588.80,500.95 L589.34,502.43 L589.39,503.93 L589.80,505.41 L589.21,506.94 L589.95,508.42 L589.97,509.92 L589.82,511.43 L589.87,512.94 L589.60,514.43 L589.90,515.96 L589.83,517.47 L589.51,518.95 L589.43,520.46 L588.93,521.92 L589.15,523.46 L587.95,524.81 L588.05,526.34 L588.38,527.90 L588.03,529.37 L587.65,530.83 L587.36,532.31 L587.35,533.84 L586.16,535.11 L585.65,536.53 L585.90,538.13 L585.43,539.56 L585.44,541.14 L584.93,542.57 L584.09,543.86 L583.60,545.29 L582.36,546.36 L582.35,548.05 L581.77,549.46 L580.04,550.16 L579.64,551.68 L579.18,553.19 L577.91,554.13 L577.48,555.70 L576.09,556.51 L574.71,557.31 L573.83,558.52 L573.00,559.78 L572.35,561.22 L571.20,562.21 L570.32,563.45 L568.73,563.96 L567.82,565.19 L566.51,565.95 L565.67,567.30 L564.56,568.33 L562.91,568.57 L561.54,569.19 L560.35,570.08 L559.06,570.83 L557.73,571.51 L556.43,572.24 L555.33,573.44 L553.82,573.75 L552.54,574.54 L551.34,575.52 L549.99,576.16 L548.53,576.56 L547.23,577.30 L545.68,577.60 L544.23,578.11 L543.25,579.39 L541.67,579.56 L540.33,580.07 L538.99,580.46 L537.56,581.17 L536.02,581.09 L534.55,580.63 L533.14,580.02 L531.83,579.23 L530.86,577.98 L529.94,576.77 L528.80,575.84 L527.46,575.06 L526.64,573.80 L525.86,572.51 L524.28,571.81 L524.02,570.16 L523.47,568.75 L522.60,567.54 L521.83,566.26 L520.85,565.08 L519.86,563.90 L519.85,562.24 L518.75,561.09 L518.68,559.49 L518.28,558.04 L517.12,556.89 L516.61,555.48 L516.73,553.86 L516.04,552.51 L514.97,551.27 L514.50,549.83 L514.18,548.35 L514.71,546.68 L514.25,545.26 L513.20,543.94 L513.72,542.31 L513.63,540.81 L513.02,539.40 L512.43,537.97 L512.45,536.45 L511.75,535.03 L511.44,533.55 L512.42,531.93 L511.87,530.49 L511.60,529.01 L511.96,527.47 L511.24,526.02 L511.67,524.50 L511.54,523.00 L510.73,521.54 L510.70,520.03 L510.75,518.53 L510.69,517.03 L511.11,515.53 L510.78,514.02 L511.05,512.53 L510.80,511.01 L511.83,509.58 L511.30,508.03 L511.56,506.55 L511.84,505.07 L512.38,503.61 L511.95,502.06 L512.70,500.63 L512.34,499.09 L512.52,497.60 L512.64,496.10 L512.16,494.56 L512.75,493.10 L512.53,491.59 L512.40,490.09 L513.38,488.62 L512.66,487.10 L513.05,485.61 L513.36,484.11 L513.15,482.61 L512.87,481.11 L513.10,479.61 L513.12,478.11 L513.37,476.61 L512.54,475.12 L513.06,473.61 L512.67,472.12 L512.68,470.62 L513.25,469.11 L512.93,467.61 L512.99,466.11 L513.22,464.61 L513.43,463.12 L512.90,461.61 L513.13,460.12 L513.07,458.62 L513.14,457.12 L513.43,455.63 L513.23,454.12 L513.43,452.63 L513.49,451.13 L514.21,449.70 L514.11,448.19 L514.56,446.74 L514.88,445.29 L514.37,443.66 L515.02,442.27 L515.83,440.93 L516.09,439.45 L515.69,437.78 L516.13,436.33 L516.96,435.03 L517.02,433.46 L517.70,432.11 L518.00,430.63 L519.15,429.43 L519.76,428.05 L520.36,426.66 L519.92,424.96 L520.97,423.71 L521.32,422.24 L521.01,420.63 L522.19,419.34 L522.58,417.87 L521.88,416.25 L522.93,414.87 L522.45,413.30 L522.66,411.82 L523.37,410.36 L523.28,408.85 L522.54,407.31 L522.92,405.83 L523.08,404.33 L522.91,402.83 L522.76,401.32 L522.94,399.83 L523.44,398.33 L522.62,396.82 L523.28,395.33 L523.16,393.83 L522.68,392.32 L523.08,390.83 L523.46,389.33 L523.35,387.83 L522.82,386.33 L523.91,384.82 L523.66,383.33 L523.84,381.82 L522.76,380.34 L522.92,378.84 L522.63,377.34 L523.52,375.84 L522.97,374.32 L522.87,372.81 L523.33,371.33 L524.04,369.89 L524.07,368.39 L523.56,366.83 L523.61,365.32 L524.75,363.97 L524.58,362.42 L525.02,360.99 L524.64,359.36 L524.98,357.88 L526.15,356.66 L526.33,355.14 L526.44,353.57 L527.99,352.59 L528.30,351.09 L529.17,349.88 L529.21,348.14 L530.84,347.45 L531.03,345.68 L532.74,345.19 L533.46,343.81 L534.47,342.68 L535.78,341.91 L537.23,341.33 L537.94,339.79 L539.09,338.79 L540.61,338.36 L541.71,337.28 L542.98,336.41 L544.43,335.85 L545.94,335.35 L547.50,335.48 L549.04,335.79" fill="none" stroke="#3d4c9e" stroke-width="1.1" stroke-linejoin="round" stroke-linecap="round" />
<path d="M517.98,637.06 L519.39,638.15 L521.18,637.35 L521.86,639.02 L523.60,639.54 L524.17,641.03 L523.69,642.89 L525.43,643.82 L525.16,645.48 L525.84,646.85 L526.15,648.32 L526.36,649.81 L527.11,651.20 L526.32,652.84 L527.71,654.16 L527.70,655.68 L528.23,657.13 L528.02,658.67 L527.98,660.18 L527.37,661.77 L528.38,663.16 L528.98,664.60 L528.92,666.11 L527.94,667.74 L529.59,669.06 L528.88,670.65 L529.45,672.09 L529.18,673.64 L529.87,675.07 L529.47,676.62 L529.95,678.08 L529.87,679.59 L529.63,681.13 L530.29,682.57 L531.14,683.99 L531.42,685.47 L530.16,687.10 L531.03,688.52 L531.65,689.97 L530.58,691.57 L531.30,693.01 L531.19,694.53 L531.07,696.04 L532.14,697.46 L532.15,698.97 L531.43,700.52 L532.73,701.93 L531.83,703.50 L533.01,704.92 L532.16,706.48 L532.25,707.98 L531.95,709.50 L532.21,710.99 L532.84,712.45 L533.40,713.93 L533.53,715.43 L532.99,716.95 L533.04,718.45 L533.76,719.94 L532.42,721.44 L533.02,722.95 L532.65,724.43 L533.30,725.98 L533.13,727.48 L533.30,729.03 L532.54,730.45 L532.38,731.96 L531.76,733.36 L531.40,734.83 L530.23,736.00 L529.60,737.32 L529.98,739.17 L528.93,740.32 L528.38,741.80 L526.81,742.48 L525.46,743.27 L525.35,745.20 L523.66,745.67 L523.18,747.28 L522.46,748.69 L520.54,748.88 L519.90,750.39 L518.96,751.60 L517.55,752.27 L516.70,753.44 L515.98,754.45 L515.83,753.45 L514.72,752.47 L513.82,751.24 L512.40,750.56 L511.09,749.76 L509.99,748.75 L508.92,747.70 L508.26,746.20 L506.95,745.45 L506.15,743.99 L504.62,743.56 L503.56,742.46 L502.67,741.24 L500.58,741.30 L499.46,740.16 L498.77,738.72 L498.43,737.18 L498.09,735.68 L497.84,734.19 L496.77,732.96 L497.32,731.26 L495.46,730.17 L496.48,728.42 L495.22,727.12 L496.08,725.48 L494.55,724.15 L495.92,722.52 L495.49,721.05 L495.78,719.56 L495.11,718.08 L494.45,716.58 L495.72,715.10 L494.93,713.58 L494.40,712.06 L495.29,710.59 L495.21,709.09 L495.26,707.59 L494.85,706.06 L494.91,704.55 L495.77,703.11 L495.69,701.60 L495.30,700.06 L495.95,698.61 L496.56,697.17 L496.69,695.67 L496.47,694.14 L496.52,692.64 L496.64,691.14 L496.61,689.62 L496.77,688.13 L497.36,686.69 L497.03,685.13 L498.24,683.79 L498.45,682.31 L498.53,680.80 L497.86,679.16 L498.67,677.78 L499.04,676.33 L498.80,674.75 L500.48,673.55 L500.44,672.02 L500.38,670.47 L501.03,669.09 L500.59,667.44 L501.02,665.99 L501.87,664.66 L502.62,663.32 L502.91,661.85 L502.41,660.10 L503.84,659.01 L504.80,657.78 L505.13,656.31 L505.99,655.07 L506.71,653.77 L506.30,651.89 L507.12,650.61 L508.21,649.50 L509.56,648.56 L509.51,646.78 L511.08,646.00 L511.78,644.69 L512.19,643.15 L513.22,642.06 L514.56,641.24 L515.31,639.95 L515.90,638.37 L517.65,638.29 L517.98,637.06" fill="none" stroke="#3d4c9e" stroke-width="1.1" stroke-linejoin="round" stroke-linecap="round" />
<path d="M553.90,320.76 L555.41,320.77 L556.98,320.87 L558.03,322.15 L559.73,322.40 L560.41,323.87 L561.00,325.29 L562.52,326.07 L562.87,327.62 L563.52,328.96 L564.69,330.07 L565.01,331.58 L565.29,333.09 L566.10,334.38 L566.39,335.87 L567.46,337.07 L567.92,338.50 L568.56,339.87 L568.70,341.41 L568.82,342.96 L569.64,344.26 L569.97,345.74 L570.83,347.02 L570.98,348.56 L572.06,349.78 L572.36,351.26 L572.44,352.81 L572.84,354.26 L573.55,355.61 L574.29,356.95 L574.53,358.45 L574.98,359.88 L575.30,361.35 L575.16,362.94 L576.12,364.24 L575.81,365.86 L576.16,367.32 L577.31,368.59 L577.32,370.13 L577.53,371.62 L578.31,372.99 L578.22,374.54 L578.05,376.11 L579.13,377.42 L578.93,378.99 L579.69,380.37 L579.51,381.93 L579.47,383.46 L580.42,384.82 L580.87,386.26 L581.04,387.75 L580.84,389.31 L581.60,390.71 L581.77,392.20 L581.60,393.75 L581.41,395.29 L582.13,396.70 L582.37,398.18 L582.35,399.70 L583.10,401.11 L582.82,402.66 L583.43,404.09 L583.20,405.64 L583.05,407.17 L584.14,408.54 L583.83,410.09 L583.96,411.59 L584.59,413.02 L584.64,414.53 L584.09,416.10 L584.24,417.59 L585.27,418.99 L584.85,420.54 L584.74,422.06 L585.60,423.48 L585.36,425.01 L586.06,426.46 L585.86,427.98 L585.68,429.50 L585.87,430.99 L585.79,432.50 L586.59,433.94 L586.42,435.46 L586.00,436.99 L586.37,438.47 L586.58,439.96 L586.71,441.46 L586.20,442.98 L586.68,444.46 L587.31,445.93 L586.59,447.47 L587.13,448.94 L587.08,450.45 L587.36,451.94 L587.19,453.45 L587.36,454.94 L587.65,456.43 L587.16,457.95 L587.73,459.43 L587.10,460.95 L587.91,462.43 L587.20,463.95 L587.21,465.45 L587.56,466.94 L587.39,468.45 L587.89,469.93 L587.45,471.45 L587.79,472.94 L588.02,474.43 L587.31,475.95 L587.91,477.44 L587.97,478.94 L587.51,480.44 L588.02,481.94 L587.74,483.44 L588.26,484.93 L587.61,486.44 L588.21,487.94 L588.42,489.43 L587.51,490.94 L588.32,492.44 L587.55,493.94 L587.53,495.44 L587.93,496.94 L588.54,498.43 L588.51,499.93 L588.39,501.43 L588.24,502.93 L588.05,504.44 L587.73,505.95 L588.38,507.43 L588.61,508.93 L588.21,510.44 L588.66,511.93 L588.72,513.44 L588.23,514.93 L588.06,516.43 L588.67,517.94 L588.23,519.44 L587.88,520.91 L587.71,522.41 L587.99,523.93 L587.31,525.36 L587.80,526.94 L587.03,528.34 L586.75,529.81 L586.33,531.24 L586.37,532.79 L586.43,534.34 L586.12,535.82 L585.24,537.14 L585.17,538.68 L584.33,540.00 L584.36,541.59 L583.20,542.77 L583.22,544.38 L582.87,545.87 L582.09,547.18 L581.21,548.43 L580.50,549.74 L579.91,551.13 L579.33,552.53 L578.30,553.67 L577.07,554.62 L576.48,556.05 L575.24,556.97 L574.94,558.71 L573.17,559.05 L572.15,560.15 L571.28,561.42 L570.08,562.31 L568.86,563.18 L567.44,563.75 L566.64,565.27 L565.04,565.54 L563.79,566.38 L562.61,567.34 L561.07,567.61 L559.71,568.25 L558.61,569.44 L557.00,569.48 L555.67,570.21 L554.25,570.68 L552.78,571.02 L551.45,571.91 L549.87,571.70 L548.43,572.15 L546.90,571.70 L545.40,572.38 L544.00,571.54 L542.52,571.38 L541.09,571.00 L539.80,570.23 L538.09,570.30 L537.08,569.04 L535.86,568.20 L534.73,567.22 L533.39,566.48 L532.08,565.67 L531.09,564.52 L530.41,563.11 L529.13,562.22 L528.09,561.10 L527.50,559.67 L526.77,558.35 L526.03,557.05 L524.87,555.97 L524.81,554.30 L523.73,553.17 L523.52,551.62 L522.19,550.57 L522.44,548.83 L521.58,547.56 L521.42,546.02 L520.91,544.63 L520.32,543.26 L519.19,542.03 L519.00,540.52 L518.53,539.08 L518.76,537.50 L517.87,536.15 L517.63,534.66 L517.31,533.18 L517.12,531.69 L517.73,530.10 L517.63,528.62 L516.90,527.18 L517.15,525.65 L516.77,524.18 L516.77,522.67 L516.57,521.18 L516.78,519.67 L516.38,518.18 L516.42,516.67 L516.70,515.18 L516.44,513.66 L516.78,512.18 L517.39,510.74 L516.72,509.12 L517.15,507.64 L518.31,506.48 L518.41,504.81 L519.48,503.70 L520.91,502.92 L521.62,501.56 L522.05,500.09 L522.51,498.70 L523.16,497.38 L523.45,495.93 L524.21,494.53 L524.50,493.02 L524.36,491.50 L524.52,490.01 L524.59,488.50 L524.52,486.99 L524.52,485.49 L524.53,483.99 L523.61,482.51 L523.79,481.01 L523.65,479.51 L523.93,478.00 L523.73,476.51 L523.50,475.02 L523.91,473.49 L523.38,472.02 L523.09,470.54 L523.05,469.04 L523.14,467.53 L523.18,466.02 L523.04,464.53 L522.80,463.04 L522.44,461.56 L522.55,460.05 L522.37,458.56 L522.11,457.07 L522.38,455.55 L521.93,454.08 L522.37,452.55 L522.22,451.05 L521.61,449.59 L522.01,448.06 L521.63,446.58 L521.64,445.08 L521.68,443.57 L521.70,442.06 L521.68,440.56 L521.40,439.08 L520.76,437.62 L521.02,436.10 L520.78,434.61 L520.46,433.10 L521.02,431.61 L520.97,430.10 L521.44,428.63 L520.98,427.10 L521.57,425.63 L521.36,424.12 L521.06,422.59 L521.80,421.14 L521.48,419.61 L521.86,418.14 L521.54,416.60 L521.61,415.10 L522.65,413.69 L521.92,412.12 L522.17,410.63 L522.33,409.14 L522.41,407.64 L523.28,406.22 L523.59,404.74 L523.39,403.22 L523.28,401.70 L523.92,400.25 L523.67,398.72 L523.44,397.19 L524.12,395.75 L523.92,394.23 L523.95,392.73 L524.12,391.23 L524.29,389.74 L524.20,388.23 L524.73,386.77 L525.09,385.29 L524.90,383.77 L524.44,382.24 L525.23,380.79 L524.67,379.24 L525.25,377.78 L525.76,376.32 L525.70,374.81 L526.07,373.34 L526.07,371.83 L525.74,370.29 L525.76,368.79 L526.21,367.33 L526.59,365.86 L526.28,364.32 L526.52,362.84 L527.07,361.38 L526.80,359.85 L527.20,358.38 L527.29,356.88 L527.82,355.43 L527.08,353.84 L527.42,352.37 L528.19,350.95 L528.26,349.45 L527.93,347.88 L528.21,346.40 L528.54,344.93 L529.16,343.53 L529.87,342.16 L529.58,340.53 L530.03,339.08 L531.02,337.85 L531.33,336.36 L532.40,335.22 L533.23,334.00 L534.01,332.75 L534.70,331.42 L535.51,330.15 L536.23,328.75 L537.83,328.26 L538.69,326.96 L539.88,326.05 L541.21,325.32 L542.62,324.78 L543.73,323.73 L545.22,323.41 L546.61,322.89 L547.72,321.56 L549.25,321.38 L550.83,321.57 L552.26,321.20 L553.76,321.28 L553.90,320.76" fill="none" stroke="#1f78a5" stroke-width="1.1" stroke-linejoin="round" stroke-linecap="round" />
<path d="M517.01,643.09 L518.51,642.83 L519.83,643.58 L521.27,644.20 L521.75,645.80 L522.64,646.97 L523.64,648.08 L524.92,649.07 L525.27,650.59 L526.14,651.84 L526.79,653.21 L526.53,654.90 L526.93,656.33 L528.45,657.44 L527.91,659.15 L528.58,660.52 L529.20,661.91 L529.66,663.34 L529.54,664.91 L530.12,666.32 L530.17,667.84 L530.51,669.30 L531.43,670.65 L530.97,672.27 L531.01,673.78 L531.29,675.25 L531.98,676.65 L532.91,678.01 L533.20,679.49 L533.28,681.00 L532.55,682.63 L533.52,684.00 L533.65,685.50 L533.20,687.06 L534.06,688.48 L533.94,690.00 L534.18,691.48 L534.74,692.95 L534.19,694.49 L533.93,695.99 L534.78,697.47 L534.70,698.98 L534.47,700.48 L534.89,701.99 L534.29,703.48 L533.85,704.96 L533.98,706.47 L534.06,707.97 L533.60,709.45 L534.37,710.99 L533.80,712.47 L533.96,713.98 L533.61,715.46 L534.12,716.99 L533.24,718.44 L533.95,719.99 L533.77,721.49 L532.87,722.92 L532.57,724.39 L533.02,725.94 L532.86,727.44 L532.86,728.96 L532.56,730.43 L531.89,731.83 L532.04,733.41 L531.73,734.90 L530.88,736.21 L530.73,737.76 L529.62,738.94 L528.83,740.22 L528.23,741.57 L527.82,743.05 L527.21,744.43 L526.31,745.65 L525.85,747.18 L524.27,747.85 L523.59,749.25 L522.56,750.35 L521.68,751.61 L520.27,752.31 L519.05,753.19 L518.08,754.36 L516.56,754.95 L515.70,756.37 L516.44,756.60 L515.90,755.44 L515.01,754.14 L513.54,753.59 L512.42,752.59 L510.84,752.15 L510.01,750.80 L508.85,749.84 L507.68,748.89 L506.64,747.80 L505.77,746.57 L504.77,745.45 L503.82,744.30 L502.62,743.31 L502.04,741.87 L501.80,740.27 L500.49,739.30 L499.37,738.17 L498.71,736.81 L498.69,735.17 L497.55,734.02 L497.03,732.58 L496.61,731.10 L496.73,729.52 L497.23,727.98 L496.54,726.53 L496.47,725.03 L496.44,723.53 L496.55,722.03 L496.53,720.53 L496.91,719.04 L497.21,717.56 L497.05,716.05 L496.81,714.53 L497.17,713.05 L497.59,711.58 L496.80,710.02 L497.01,708.53 L497.58,707.07 L497.78,705.58 L497.85,704.08 L497.92,702.58 L498.33,701.11 L498.05,699.58 L498.58,698.12 L498.90,696.65 L498.41,695.09 L499.06,693.65 L499.05,692.14 L499.40,690.67 L498.56,689.07 L499.76,687.70 L499.75,686.19 L500.18,684.74 L500.40,683.26 L499.80,681.66 L500.49,680.25 L500.13,678.66 L500.94,677.29 L501.64,675.90 L501.10,674.25 L501.62,672.83 L501.65,671.29 L502.12,669.86 L502.49,668.41 L502.71,666.91 L504.14,665.73 L504.39,664.26 L504.33,662.68 L505.10,661.35 L505.55,659.93 L505.89,658.46 L506.41,657.05 L507.32,655.82 L507.92,654.45 L508.35,652.97 L509.23,651.74 L510.27,650.62 L511.11,649.38 L511.54,647.85 L512.85,646.95 L514.01,645.99 L515.03,644.96 L516.00,643.82 L517.01,643.09" fill="none" stroke="#1f78a5" stroke-width="1.1" stroke-linejoin="round" stroke-linecap="round" />
<path d="M562.02,322.36 L563.37,322.98 L564.18,324.20 L565.38,325.12 L566.05,326.47 L566.51,327.90 L567.42,329.17 L567.57,330.70 L567.93,332.16 L568.24,333.64 L569.38,334.85 L569.63,336.34 L570.28,337.71 L570.01,339.36 L570.51,340.77 L571.54,342.05 L570.98,343.74 L571.35,345.19 L572.00,346.58 L572.37,348.03 L573.14,349.39 L573.61,350.83 L573.41,352.41 L574.18,353.78 L574.36,355.27 L574.61,356.76 L575.11,358.18 L574.98,359.74 L575.29,361.21 L575.17,362.76 L575.77,364.17 L575.91,365.67 L576.31,367.12 L576.40,368.63 L576.86,370.07 L577.27,371.53 L576.80,373.12 L577.05,374.60 L577.43,376.06 L577.80,377.52 L578.42,378.94 L578.74,380.41 L578.91,381.90 L579.36,383.35 L578.91,384.94 L579.51,386.36 L579.31,387.91 L580.00,389.32 L579.69,390.89 L580.06,392.35 L581.15,393.68 L581.20,395.20 L580.78,396.80 L581.48,398.19 L581.25,399.76 L582.09,401.13 L582.68,402.55 L582.40,404.13 L582.51,405.63 L583.27,407.02 L583.71,408.46 L583.72,409.99 L583.33,411.57 L583.77,413.02 L584.63,414.40 L584.72,415.91 L585.06,417.38 L585.29,418.86 L584.75,420.44 L585.53,421.86 L585.31,423.40 L585.58,424.87 L585.97,426.35 L585.57,427.89 L586.31,429.33 L585.91,430.87 L586.55,432.32 L586.35,433.84 L586.65,435.33 L586.68,436.83 L586.07,438.37 L586.31,439.85 L586.88,441.33 L586.36,442.85 L587.10,444.32 L586.97,445.83 L586.56,447.34 L586.82,448.84 L587.41,450.32 L586.55,451.84 L587.36,453.32 L587.35,454.83 L586.87,456.33 L587.33,457.83 L587.38,459.33 L587.62,460.82 L587.62,462.33 L587.14,463.83 L587.49,465.33 L587.14,466.83 L587.37,468.33 L587.30,469.83 L586.79,471.33 L587.26,472.83 L587.16,474.33 L586.86,475.83 L587.54,477.33 L587.55,478.83 L586.77,480.32 L586.85,481.83 L587.40,483.33 L587.43,484.84 L586.84,486.32 L586.61,487.82 L587.32,489.33 L586.53,490.82 L586.57,492.32 L586.81,493.82 L586.96,495.33 L587.25,496.83 L587.28,498.33 L586.33,499.82 L587.02,501.33 L586.51,502.82 L586.91,504.33 L586.29,505.81 L586.42,507.31 L586.64,508.83 L586.66,510.34 L585.96,511.78 L586.45,513.34 L586.12,514.82 L585.57,516.26 L585.03,517.69 L585.02,519.21 L585.07,520.75 L584.15,522.09 L584.56,523.70 L584.44,525.21 L583.88,526.63 L583.38,528.06 L583.44,529.61 L582.98,531.05 L582.42,532.46 L581.84,533.86 L581.89,535.43 L581.23,536.80 L580.26,538.06 L579.71,539.46 L579.55,540.98 L578.92,542.33 L578.41,543.75 L578.21,545.31 L577.59,546.71 L576.81,548.01 L575.26,548.80 L574.61,550.14 L573.43,551.09 L573.14,552.83 L571.69,553.55 L570.68,554.65 L569.39,555.45 L568.53,556.75 L566.93,557.13 L566.25,558.74 L564.75,559.22 L563.41,559.91 L562.03,560.48 L560.80,561.35 L559.51,562.09 L558.11,562.61 L556.68,563.04 L555.48,564.12 L553.95,564.19 L552.44,564.29 L551.02,564.62 L549.55,565.01 L548.09,564.57 L546.67,564.25 L545.17,564.11 L543.76,563.64 L542.32,563.19 L541.08,562.33 L539.79,561.57 L538.27,561.15 L537.36,559.83 L536.43,558.63 L535.24,557.73 L534.02,556.86 L532.74,556.02 L531.97,554.69 L530.85,553.68 L529.83,552.58 L529.23,551.16 L527.76,550.35 L527.53,548.72 L526.11,547.81 L525.92,546.20 L525.15,544.91 L524.25,543.67 L524.16,542.09 L523.44,540.75 L523.03,539.31 L522.95,537.79 L521.92,536.51 L521.30,535.10 L521.34,533.55 L521.49,532.00 L520.79,530.58 L520.65,529.07 L521.36,527.55 L521.09,526.05 L520.88,524.55 L521.47,523.10 L521.06,521.56 L521.55,520.10 L521.29,518.55 L521.76,517.10 L522.37,515.68 L522.72,514.22 L522.94,512.74 L522.71,511.18 L523.16,509.73 L523.16,508.21 L523.21,506.71 L523.78,505.28 L524.34,503.84 L524.57,502.36 L524.63,500.84 L525.00,499.36 L524.45,497.81 L524.47,496.31 L524.88,494.84 L524.79,493.34 L524.76,491.84 L525.00,490.34 L525.24,488.85 L525.14,487.35 L524.99,485.85 L525.50,484.34 L525.63,482.84 L525.09,481.35 L524.70,479.85 L524.65,478.35 L525.46,476.84 L524.60,475.36 L525.24,473.84 L525.07,472.35 L524.78,470.85 L525.24,469.34 L524.44,467.86 L524.53,466.36 L524.82,464.85 L524.36,463.36 L525.14,461.84 L524.52,460.35 L524.42,458.85 L524.32,457.35 L524.90,455.85 L524.71,454.35 L524.89,452.85 L524.91,451.35 L525.09,449.86 L525.28,448.36 L525.05,446.86 L524.61,445.34 L524.92,443.85 L524.67,442.34 L524.58,440.83 L525.13,439.36 L525.47,437.88 L525.03,436.35 L525.21,434.85 L525.38,433.36 L525.84,431.89 L525.79,430.38 L526.01,428.89 L526.27,427.41 L526.03,425.89 L526.55,424.43 L526.81,422.95 L526.14,421.37 L527.13,419.96 L527.06,418.45 L526.62,416.90 L527.09,415.44 L527.41,413.96 L527.86,412.50 L527.49,410.95 L527.84,409.48 L528.31,408.03 L528.39,406.53 L528.70,405.05 L528.40,403.51 L528.75,402.04 L528.48,400.50 L529.17,399.07 L529.43,397.59 L529.43,396.08 L529.68,394.60 L529.35,393.05 L530.21,391.64 L530.47,390.16 L530.63,388.66 L530.35,387.13 L530.77,385.66 L530.47,384.12 L531.21,382.69 L531.32,381.19 L530.97,379.65 L530.86,378.13 L531.38,376.67 L531.66,375.20 L532.04,373.73 L531.93,372.21 L531.66,370.66 L532.64,369.28 L532.12,367.69 L533.05,366.31 L532.69,364.73 L533.13,363.28 L533.85,361.90 L533.53,360.29 L533.91,358.83 L534.64,357.47 L535.21,356.08 L535.80,354.70 L536.14,353.23 L536.86,351.90 L536.98,350.35 L537.98,349.15 L537.77,347.42 L538.53,346.11 L539.48,344.90 L539.94,343.45 L541.04,342.34 L541.71,341.00 L542.37,339.65 L543.45,338.56 L544.04,337.16 L544.67,335.77 L545.63,334.61 L546.90,333.70 L547.89,332.59 L548.36,331.01 L549.83,330.33 L550.99,329.39 L551.76,328.03 L552.93,327.09 L553.86,325.86 L555.27,325.22 L556.51,324.39 L557.84,323.71 L559.01,322.57 L560.73,323.04 L562.02,322.36" fill="none" stroke="#15998a" stroke-width="1.1" stroke-linejoin="round" stroke-linecap="round" />
<path d="M519.01,645.97 L520.41,646.46 L521.70,647.11 L523.27,647.54 L524.47,648.56 L525.05,650.05 L525.91,651.30 L526.01,652.93 L526.76,654.22 L527.39,655.58 L527.95,656.97 L528.28,658.44 L529.30,659.70 L529.34,661.25 L530.04,662.63 L529.47,664.29 L530.78,665.56 L530.15,667.20 L531.27,668.53 L530.79,670.13 L531.40,671.56 L531.51,673.06 L531.17,674.60 L532.30,675.99 L532.40,677.49 L531.53,679.08 L532.13,680.53 L532.75,681.99 L531.79,683.56 L531.94,685.05 L533.02,686.49 L532.74,688.01 L533.17,689.49 L533.01,691.00 L532.70,692.51 L533.30,694.00 L532.70,695.51 L533.50,697.00 L533.37,698.50 L532.62,700.01 L533.10,701.51 L533.06,703.01 L532.83,704.50 L532.94,706.01 L533.00,707.51 L533.37,709.03 L532.47,710.49 L532.10,711.97 L532.01,713.47 L532.29,714.98 L532.54,716.50 L532.41,718.00 L531.90,719.46 L531.75,720.95 L532.25,722.51 L531.94,723.99 L531.56,725.46 L531.15,726.92 L530.55,728.33 L530.60,729.86 L530.83,731.47 L529.50,732.67 L529.54,734.24 L528.94,735.62 L528.76,737.16 L527.94,738.45 L527.37,739.85 L526.28,740.97 L526.29,742.68 L525.09,743.73 L524.62,745.23 L523.22,746.05 L522.80,747.70 L521.50,748.55 L520.32,749.49 L518.94,750.18 L518.23,751.64 L516.85,752.30 L517.13,752.71 L516.15,751.79 L514.98,750.86 L513.97,749.62 L512.39,749.35 L511.44,748.08 L509.67,747.97 L509.10,746.31 L507.56,745.77 L506.38,744.80 L505.91,743.24 L505.18,741.94 L503.47,741.25 L503.04,739.74 L503.01,738.13 L502.07,736.87 L501.56,735.44 L500.97,734.02 L500.73,732.52 L501.18,730.92 L501.41,729.39 L501.26,727.90 L500.51,726.48 L499.82,725.03 L500.07,723.50 L500.54,721.97 L500.52,720.47 L500.23,718.99 L499.71,717.50 L500.05,715.99 L499.98,714.49 L500.19,713.00 L499.78,711.49 L500.67,710.02 L500.68,708.52 L499.88,706.97 L500.15,705.48 L500.96,704.04 L500.36,702.49 L501.30,701.07 L500.93,699.53 L501.30,698.06 L501.47,696.57 L501.05,695.01 L501.31,693.53 L501.45,692.04 L502.15,690.61 L502.35,689.13 L501.88,687.55 L502.98,686.19 L502.65,684.63 L502.66,683.11 L503.13,681.66 L504.02,680.29 L503.77,678.73 L504.12,677.27 L504.75,675.86 L505.09,674.41 L505.17,672.90 L505.08,671.34 L505.64,669.93 L506.36,668.57 L506.61,667.09 L506.77,665.58 L506.93,664.07 L507.40,662.64 L508.29,661.35 L508.59,659.87 L508.49,658.23 L509.82,657.14 L510.62,655.86 L511.11,654.45 L511.90,653.19 L512.64,651.91 L513.07,650.42 L514.21,649.44 L514.86,648.00 L515.82,646.74 L517.32,646.23 L518.78,645.81 L519.01,645.97" fill="none" stroke="#15998a" stroke-width="1.1" stroke-linejoin="round" stroke-linecap="round" />
<path d="M557.97,296.16 L559.47,296.43 L560.87,296.80 L562.09,297.63 L563.69,297.91 L564.87,298.85 L566.12,299.65 L567.34,300.52 L568.24,301.80 L569.67,302.58 L570.01,304.12 L570.78,305.46 L571.04,306.96 L571.16,308.46 L570.99,310.01 L571.45,311.46 L572.29,312.83 L572.30,314.35 L572.73,315.79 L572.34,317.41 L572.71,318.86 L573.03,320.32 L573.31,321.80 L573.68,323.25 L573.74,324.76 L574.15,326.21 L574.90,327.61 L574.53,329.17 L575.08,330.61 L574.99,332.13 L575.36,333.60 L575.65,335.08 L575.86,336.56 L575.94,338.06 L576.20,339.55 L576.53,341.02 L575.97,342.58 L576.13,344.07 L576.08,345.58 L576.51,347.05 L576.78,348.53 L576.73,350.04 L577.48,351.48 L577.09,353.02 L577.47,354.49 L577.89,355.95 L578.03,357.45 L577.87,358.97 L578.30,360.43 L578.28,361.95 L578.32,363.45 L578.71,364.92 L579.17,366.37 L579.01,367.90 L579.47,369.35 L579.67,370.84 L579.91,372.32 L579.95,373.83 L580.45,375.27 L580.08,376.84 L579.99,378.37 L580.75,379.78 L580.62,381.31 L580.61,382.82 L581.69,384.19 L581.78,385.69 L581.30,387.26 L581.45,388.76 L581.83,390.22 L582.48,391.66 L582.40,393.18 L582.10,394.72 L582.23,396.21 L582.46,397.69 L583.21,399.13 L582.70,400.68 L583.30,402.13 L583.08,403.66 L583.78,405.11 L583.07,406.67 L583.55,408.13 L583.54,409.64 L584.15,411.10 L583.85,412.62 L583.99,414.12 L584.08,415.61 L584.41,417.10 L584.13,418.62 L584.61,420.09 L584.75,421.58 L584.97,423.07 L584.54,424.60 L585.20,426.07 L585.16,427.57 L585.40,429.06 L584.91,430.59 L585.08,432.08 L585.17,433.58 L585.75,435.05 L585.42,436.57 L585.59,438.06 L585.92,439.55 L586.08,441.04 L585.16,442.59 L586.11,444.05 L585.99,445.55 L586.10,447.05 L585.84,448.56 L586.42,450.04 L586.10,451.56 L586.26,453.05 L585.86,454.57 L586.75,456.03 L586.49,457.54 L586.39,459.05 L585.97,460.57 L586.48,462.05 L586.58,463.55 L586.44,465.05 L586.86,466.54 L587.18,468.03 L586.76,469.54 L586.40,471.05 L586.60,472.55 L587.12,474.04 L586.73,475.55 L586.60,477.05 L587.21,478.54 L586.90,480.04 L587.15,481.54 L587.28,483.04 L587.24,484.54 L587.32,486.04 L587.16,487.54 L587.47,489.04 L587.10,490.54 L587.39,492.05 L586.70,493.54 L586.84,495.04 L587.41,496.55 L586.62,498.04 L587.18,499.54 L586.86,501.04 L586.74,502.54 L586.91,504.04 L586.90,505.55 L586.66,507.04 L586.86,508.55 L586.03,510.00 L586.63,511.56 L585.75,512.97 L586.18,514.54 L585.88,516.01 L585.54,517.48 L585.64,519.02 L585.28,520.49 L584.76,521.91 L584.38,523.37 L583.66,524.75 L583.23,526.19 L583.84,527.86 L583.04,529.22 L583.10,530.78 L582.07,532.06 L582.16,533.64 L581.23,534.94 L581.15,536.47 L581.08,538.03 L580.72,539.49 L580.02,540.85 L578.87,542.00 L578.93,543.66 L578.02,544.90 L577.46,546.29 L576.68,547.59 L575.50,548.62 L575.19,550.22 L573.80,551.03 L572.85,552.19 L571.67,553.12 L570.87,554.43 L569.48,555.12 L568.67,556.47 L567.42,557.31 L566.17,558.13 L564.82,558.81 L563.57,559.61 L562.67,561.03 L561.34,561.73 L559.84,562.11 L558.37,562.48 L557.09,563.29 L555.77,564.06 L554.16,563.87 L552.85,564.82 L551.39,565.34 L549.84,565.39 L548.31,565.34 L546.92,564.47 L545.32,564.64 L544.07,563.64 L542.79,562.89 L541.53,562.09 L540.14,561.57 L538.70,561.03 L537.59,560.01 L536.54,558.94 L535.35,558.04 L533.94,557.37 L533.21,555.97 L531.71,555.33 L530.83,554.09 L530.40,552.49 L529.04,551.67 L527.97,550.59 L527.53,549.07 L526.42,548.01 L525.31,546.90 L524.60,545.55 L524.23,544.05 L523.76,542.62 L523.79,541.03 L522.75,539.78 L522.96,538.17 L522.58,536.73 L521.85,535.36 L522.16,533.78 L521.67,532.34 L521.14,530.91 L520.71,529.46 L520.76,527.94 L521.05,526.40 L520.54,524.94 L520.06,523.49 L520.09,521.97 L520.12,520.47 L519.76,518.98 L520.07,517.46 L519.46,515.99 L520.18,514.46 L519.47,512.99 L519.33,511.49 L519.79,509.97 L519.47,508.48 L520.02,506.97 L519.60,505.48 L519.59,503.98 L519.87,502.47 L519.21,500.98 L519.73,499.47 L519.61,497.97 L519.38,496.48 L519.89,494.97 L518.93,493.48 L519.76,491.97 L519.02,490.48 L519.70,488.97 L519.00,487.48 L518.88,485.98 L519.31,484.48 L519.71,482.97 L519.03,481.48 L519.24,479.98 L519.33,478.48 L518.93,476.99 L519.17,475.48 L518.61,473.99 L519.01,472.48 L519.29,470.97 L518.81,469.49 L518.62,468.00 L518.37,466.51 L518.94,464.98 L518.59,463.49 L519.00,461.97 L518.72,460.48 L517.98,459.03 L518.69,457.47 L518.60,455.98 L518.38,454.49 L518.28,452.99 L518.01,451.51 L517.94,450.01 L517.78,448.52 L517.60,447.02 L517.17,445.55 L516.95,444.06 L517.45,442.53 L517.26,441.04 L516.66,439.56 L517.19,438.04 L517.10,436.54 L517.00,435.04 L517.27,433.54 L517.37,432.05 L516.88,430.54 L517.36,429.06 L517.11,427.55 L517.24,426.05 L517.15,424.55 L517.74,423.08 L517.37,421.55 L517.98,420.09 L517.48,418.55 L517.93,417.08 L518.30,415.61 L518.22,414.10 L518.06,412.58 L517.91,411.05 L518.46,409.60 L518.56,408.10 L519.14,406.66 L519.28,405.17 L519.66,403.70 L519.30,402.15 L519.46,400.66 L519.81,399.19 L520.19,397.72 L519.72,396.15 L520.06,394.68 L520.20,393.18 L520.58,391.72 L520.77,390.23 L521.66,388.85 L521.14,387.25 L522.10,385.89 L521.70,384.30 L521.89,382.81 L522.92,381.48 L522.33,379.84 L522.64,378.37 L522.96,376.90 L523.21,375.42 L523.83,374.01 L523.97,372.51 L524.24,371.03 L524.43,369.54 L525.42,368.22 L525.11,366.61 L525.61,365.19 L526.26,363.80 L526.89,362.39 L526.98,360.88 L527.32,359.42 L527.60,357.94 L527.98,356.49 L528.30,355.02 L527.88,353.42 L528.05,351.92 L528.88,350.55 L529.06,349.06 L529.38,347.60 L529.99,346.20 L529.77,344.60 L530.69,343.29 L530.84,341.77 L531.27,340.33 L531.55,338.85 L532.04,337.43 L532.81,336.11 L533.28,334.68 L534.13,333.40 L534.07,331.77 L535.02,330.54 L535.02,328.91 L536.12,327.75 L536.30,326.18 L537.57,325.12 L538.33,323.83 L538.39,322.18 L539.59,321.12 L539.80,319.53 L540.62,318.26 L541.21,316.87 L542.27,315.75 L542.78,314.30 L544.09,313.35 L544.79,312.02 L545.50,310.69 L546.59,309.62 L547.07,308.12 L548.05,306.97 L548.98,305.80 L549.61,304.39 L551.23,303.74 L551.50,302.06 L552.46,300.89 L553.95,300.18 L554.96,299.10 L555.79,297.81 L556.97,296.89 L557.97,296.16" fill="none" stroke="#5ec25e" stroke-width="1.1" stroke-linejoin="round" stroke-linecap="round" />
<path d="M521.11,646.54 L522.35,647.58 L523.58,648.30 L524.34,649.57 L525.86,650.29 L526.64,651.59 L526.78,653.19 L527.41,654.54 L528.32,655.81 L528.36,657.37 L529.09,658.72 L529.03,660.28 L530.13,661.57 L530.32,663.07 L529.77,664.69 L530.67,666.07 L530.98,667.54 L530.52,669.11 L530.89,670.57 L531.60,672.01 L531.25,673.55 L531.22,675.05 L531.91,676.51 L531.41,678.05 L532.13,679.51 L531.93,681.02 L532.30,682.51 L532.21,684.02 L531.33,685.54 L532.05,687.03 L531.38,688.54 L532.07,690.03 L531.88,691.53 L531.58,693.03 L531.81,694.53 L532.50,696.03 L531.91,697.53 L531.85,699.03 L532.37,700.54 L532.44,702.04 L531.46,703.51 L531.85,705.03 L532.17,706.54 L531.80,708.03 L532.01,709.54 L531.22,711.00 L531.48,712.52 L531.85,714.05 L530.86,715.47 L531.60,717.05 L531.20,718.52 L531.32,720.05 L530.29,721.43 L530.79,723.02 L530.06,724.42 L530.28,726.00 L529.51,727.37 L528.94,728.78 L528.73,730.27 L528.43,731.74 L527.94,733.16 L527.54,734.61 L526.86,735.96 L526.90,737.58 L525.92,738.81 L525.60,740.31 L524.29,741.36 L523.58,742.66 L523.73,744.47 L522.81,745.70 L521.36,746.47 L520.45,747.66 L519.83,749.18 L518.15,749.58 L516.76,750.51 L517.06,751.96 L516.61,750.95 L515.55,749.93 L514.54,748.74 L512.84,748.58 L511.64,747.66 L510.37,746.82 L509.63,745.40 L508.46,744.45 L507.29,743.47 L506.49,742.18 L505.31,741.11 L504.92,739.58 L505.14,737.91 L504.28,736.62 L503.58,735.25 L504.06,733.63 L503.13,732.27 L502.78,730.80 L502.32,729.34 L502.29,727.83 L502.19,726.32 L502.10,724.82 L502.75,723.27 L501.93,721.82 L501.84,720.32 L502.19,718.80 L502.54,717.30 L501.76,715.81 L502.33,714.31 L501.89,712.80 L502.15,711.31 L502.26,709.81 L502.75,708.34 L502.61,706.83 L502.42,705.32 L502.94,703.85 L502.49,702.31 L502.65,700.82 L503.48,699.39 L503.14,697.85 L503.57,696.39 L503.19,694.84 L504.08,693.43 L503.90,691.90 L503.65,690.36 L504.66,688.98 L504.31,687.42 L504.36,685.91 L504.49,684.41 L504.52,682.90 L504.87,681.43 L505.70,680.05 L505.30,678.46 L505.71,677.00 L506.22,675.57 L506.62,674.12 L506.75,672.62 L507.54,671.26 L507.29,669.65 L507.78,668.23 L508.25,666.80 L508.33,665.26 L508.90,663.85 L509.29,662.39 L510.45,661.22 L510.34,659.56 L511.50,658.42 L511.60,656.82 L512.72,655.69 L513.43,654.38 L513.86,652.89 L515.27,652.05 L515.90,650.67 L516.80,649.48 L517.52,647.99 L519.05,647.48 L520.40,646.83 L521.11,646.54" fill="none" stroke="#5ec25e" stroke-width="1.1" stroke-linejoin="round" stroke-linecap="round" />
<circle cx="547.7" cy="548.7" r="2.8" fill="#7a5a98" stroke="#3a3a3a" stroke-width="0.6"/>
<circle cx="547.7" cy="548.7" r="1.54" fill="#5a4a7a" stroke="#3a3a3a" stroke-width="0.45"/>
<circle cx="551.6" cy="548.0" r="2.8" fill="#7a5a98" stroke="#3a3a3a" stroke-width="0.6"/>
<circle cx="551.6" cy="548.0" r="1.54" fill="#167a3a" stroke="#3a3a3a" stroke-width="0.45"/>
<circle cx="555.4" cy="547.1" r="2.8" fill="#7a5a98" stroke="#3a3a3a" stroke-width="0.6"/>
<circle cx="555.4" cy="547.1" r="1.54" fill="#167a3a" stroke="#3a3a3a" stroke-width="0.45"/>
<circle cx="538.7" cy="595.9" r="2.9" fill="#7a5a98" stroke="#3a3a3a" stroke-width="0.6"/>
<circle cx="538.7" cy="595.9" r="1.59" fill="#c0102a" stroke="#3a3a3a" stroke-width="0.45"/>
<circle cx="517" cy="737.6" r="3.2" fill="#e8822a" stroke="#3a3a3a" stroke-width="0.6"/>
<circle cx="517" cy="737.6" r="1.76" fill="#167a3a" stroke="#3a3a3a" stroke-width="0.45"/>
<circle cx="517" cy="744" r="3.2" fill="#e8822a" stroke="#3a3a3a" stroke-width="0.6"/>
<circle cx="517" cy="744" r="1.76" fill="#167a3a" stroke="#3a3a3a" stroke-width="0.45"/>
<circle cx="499.4" cy="741.4" r="3.2" fill="#e8822a" stroke="#3a3a3a" stroke-width="0.6"/>
<circle cx="499.4" cy="741.4" r="1.76" fill="#c0102a" stroke="#3a3a3a" stroke-width="0.45"/>
<circle cx="489.6" cy="764" r="3.2" fill="#e8822a" stroke="#3a3a3a" stroke-width="0.6"/>
<circle cx="489.6" cy="764" r="1.76" fill="#c0102a" stroke="#3a3a3a" stroke-width="0.45"/>
<path d="M488,64.4 L465.4,75.2 L474.8,77.6 L476.4,86.4 Z" fill="#111"/>
<text transform="translate(494.2,59.5) rotate(50)" font-size="8.5" font-family="Liberation Serif" fill="#222" text-anchor="middle" dominant-baseline="central">N</text>
</g>
<rect x="457.50" y="19.60" width="208.50" height="754.20" fill="none" stroke="#666" stroke-width="1" />
<line x1="452.00" y1="773.80" x2="457.50" y2="773.80" stroke="#555" stroke-width="0.9" />
<line x1="452.00" y1="747.86" x2="457.50" y2="747.86" stroke="#555" stroke-width="0.9" />
<line x1="452.00" y1="721.92" x2="457.50" y2="721.92" stroke="#555" stroke-width="0.9" />
<line x1="452.00" y1="695.98" x2="457.50" y2="695.98" stroke="#555" stroke-width="0.9" />
<line x1="452.00" y1="670.04" x2="457.50" y2="670.04" stroke="#555" stroke-width="0.9" />
<line x1="452.00" y1="644.10" x2="457.50" y2="644.10" stroke="#555" stroke-width="0.9" />
<line x1="452.00" y1="618.16" x2="457.50" y2="618.16" stroke="#555" stroke-width="0.9" />
<line x1="452.00" y1="592.22" x2="457.50" y2="592.22" stroke="#555" stroke-width="0.9" />
<line x1="452.00" y1="566.28" x2="457.50" y2="566.28" stroke="#555" stroke-width="0.9" />
<line x1="452.00" y1="540.34" x2="457.50" y2="540.34" stroke="#555" stroke-width="0.9" />
<line x1="452.00" y1="514.40" x2="457.50" y2="514.40" stroke="#555" stroke-width="0.9" />
<line x1="452.00" y1="488.46" x2="457.50" y2="488.46" stroke="#555" stroke-width="0.9" />
<line x1="452.00" y1="462.52" x2="457.50" y2="462.52" stroke="#555" stroke-width="0.9" />
<line x1="452.00" y1="436.58" x2="457.50" y2="436.58" stroke="#555" stroke-width="0.9" />
<line x1="452.00" y1="410.64" x2="457.50" y2="410.64" stroke="#555" stroke-width="0.9" />
<line x1="452.00" y1="384.70" x2="457.50" y2="384.70" stroke="#555" stroke-width="0.9" />
<line x1="452.00" y1="358.76" x2="457.50" y2="358.76" stroke="#555" stroke-width="0.9" />
<line x1="452.00" y1="332.82" x2="457.50" y2="332.82" stroke="#555" stroke-width="0.9" />
<line x1="452.00" y1="306.88" x2="457.50" y2="306.88" stroke="#555" stroke-width="0.9" />
<line x1="452.00" y1="280.94" x2="457.50" y2="280.94" stroke="#555" stroke-width="0.9" />
<line x1="452.00" y1="255.00" x2="457.50" y2="255.00" stroke="#555" stroke-width="0.9" />
<line x1="452.00" y1="229.06" x2="457.50" y2="229.06" stroke="#555" stroke-width="0.9" />
<line x1="452.00" y1="203.12" x2="457.50" y2="203.12" stroke="#555" stroke-width="0.9" />
<line x1="452.00" y1="177.18" x2="457.50" y2="177.18" stroke="#555" stroke-width="0.9" />
<line x1="452.00" y1="151.24" x2="457.50" y2="151.24" stroke="#555" stroke-width="0.9" />
<line x1="452.00" y1="125.30" x2="457.50" y2="125.30" stroke="#555" stroke-width="0.9" />
<line x1="452.00" y1="99.36" x2="457.50" y2="99.36" stroke="#555" stroke-width="0.9" />
<line x1="452.00" y1="73.42" x2="457.50" y2="73.42" stroke="#555" stroke-width="0.9" />
<line x1="452.00" y1="47.48" x2="457.50" y2="47.48" stroke="#555" stroke-width="0.9" />
<line x1="452.00" y1="21.54" x2="457.50" y2="21.54" stroke="#555" stroke-width="0.9" />
<line x1="457.50" y1="773.80" x2="457.50" y2="778.80" stroke="#555" stroke-width="0.9" />
<line x1="483.56" y1="773.80" x2="483.56" y2="778.80" stroke="#555" stroke-width="0.9" />
<line x1="509.62" y1="773.80" x2="509.62" y2="778.80" stroke="#555" stroke-width="0.9" />
<line x1="535.68" y1="773.80" x2="535.68" y2="778.80" stroke="#555" stroke-width="0.9" />
<line x1="561.74" y1="773.80" x2="561.74" y2="778.80" stroke="#555" stroke-width="0.9" />
<line x1="587.80" y1="773.80" x2="587.80" y2="778.80" stroke="#555" stroke-width="0.9" />
<line x1="613.86" y1="773.80" x2="613.86" y2="778.80" stroke="#555" stroke-width="0.9" />
<line x1="639.92" y1="773.80" x2="639.92" y2="778.80" stroke="#555" stroke-width="0.9" />
<line x1="665.98" y1="773.80" x2="665.98" y2="778.80" stroke="#555" stroke-width="0.9" />
<text transform="translate(446.9,773.8) rotate(-90)" font-size="11.5" text-anchor="middle" fill="#222">0</text>
<text transform="translate(446.9,721.9) rotate(-90)" font-size="11.5" text-anchor="middle" fill="#222">125</text>
<text transform="translate(446.9,670.0) rotate(-90)" font-size="11.5" text-anchor="middle" fill="#222">250</text>
<text transform="translate(446.9,566.3) rotate(-90)" font-size="11.5" text-anchor="middle" fill="#222">500</text>
<text transform="translate(446.9,462.5) rotate(-90)" font-size="11.5" text-anchor="middle" fill="#222">750</text>
<text transform="translate(446.9,358.7) rotate(-90)" font-size="11.5" text-anchor="middle" fill="#222">1000</text>
<text transform="translate(446.9,255.0) rotate(-90)" font-size="11.5" text-anchor="middle" fill="#222">1250</text>
<text transform="translate(446.9,151.2) rotate(-90)" font-size="11.5" text-anchor="middle" fill="#222">1500</text>
<text transform="translate(446.9,48.7) rotate(-90)" font-size="11.5" text-anchor="middle" fill="#222">1750 m</text>
<text x="457.5" y="792.0" font-size="11.2" text-anchor="middle" fill="#222" >0</text>
<text x="509.6" y="792.0" font-size="11.2" text-anchor="middle" fill="#222" >125</text>
<text x="561.7" y="792.0" font-size="11.2" text-anchor="middle" fill="#222" >250</text>
<text x="613.9" y="792.0" font-size="11.2" text-anchor="middle" fill="#222" >375</text>
<text x="666.0" y="792.0" font-size="11.2" text-anchor="middle" fill="#222" >500</text>
<text x="561.5" y="806.3" font-size="11" font-weight="bold" text-anchor="middle" fill="#222" >m</text>
<text x="438.2" y="20.7" font-size="16" font-weight="bold" text-anchor="start" fill="#1c1c1c" >e</text>
<rect x="552.50" y="650.50" width="113.50" height="122.80" fill="#fff" stroke="#444" stroke-width="1" />
<text x="557.0" y="663.2" font-size="11" text-anchor="start" fill="#222" >1K-Isolinie:</text>
<line x1="557.60" y1="674.00" x2="573.40" y2="674.00" stroke="#7a2c8e" stroke-width="1.6" />
<line x1="557.60" y1="686.40" x2="573.40" y2="686.40" stroke="#3d4c9e" stroke-width="1.6" />
<line x1="557.60" y1="698.60" x2="573.40" y2="698.60" stroke="#1f78a5" stroke-width="1.6" />
<line x1="557.60" y1="711.00" x2="573.40" y2="711.00" stroke="#15998a" stroke-width="1.6" />
<line x1="557.60" y1="723.00" x2="573.40" y2="723.00" stroke="#5ec25e" stroke-width="1.6" />
<line x1="557.60" y1="744.40" x2="573.40" y2="744.40" stroke="#f2e21a" stroke-width="1.6" stroke-dasharray="4 2.6"/>
<text x="580.6" y="677.6" font-size="11" text-anchor="start" fill="#222" >TOM</text>
<text x="580.6" y="690.0" font-size="11" text-anchor="start" fill="#222" >FEFLOW (FF)</text>
<text x="580.6" y="702.6" font-size="11" fill="#222">FF <tspan font-size="8.2">(Ø RH)</tspan></text>
<text x="580.6" y="715.2" font-size="11" fill="#222">FF <tspan font-size="8.2">(Ø RH, k<tspan font-size="5" dy="1.5">f</tspan><tspan dy="-1.5"> = TOM)</tspan></tspan></text>
<text x="580.6" y="727.4" font-size="11" fill="#222">FF <tspan font-size="8.2">(Ø RH, k<tspan font-size="5" dy="1.5">f</tspan><tspan dy="-1.5"> = TOM,</tspan></tspan></text>
<text x="597.0" y="737.4" font-size="8.2" text-anchor="start" fill="#222" >FA = TOM)</text>
<text x="580.6" y="748.8" font-size="11" fill="#222">FF <tspan font-size="8.2">(Ø RH, k<tspan font-size="5" dy="1.5">f</tspan><tspan dy="-1.5"> = TOM,</tspan></tspan></text>
<text x="597.0" y="758.6" font-size="8.2" text-anchor="start" fill="#222" >FA = TOM, Ø RB</text>
<text x="597.0" y="767.6" font-size="8.2" text-anchor="start" fill="#222" >Atmosphäre)</text>
<rect x="0.50" y="0.50" width="684.00" height="819.00" fill="none" stroke="#454545" stroke-width="1.1" />
</svg></body></html>
